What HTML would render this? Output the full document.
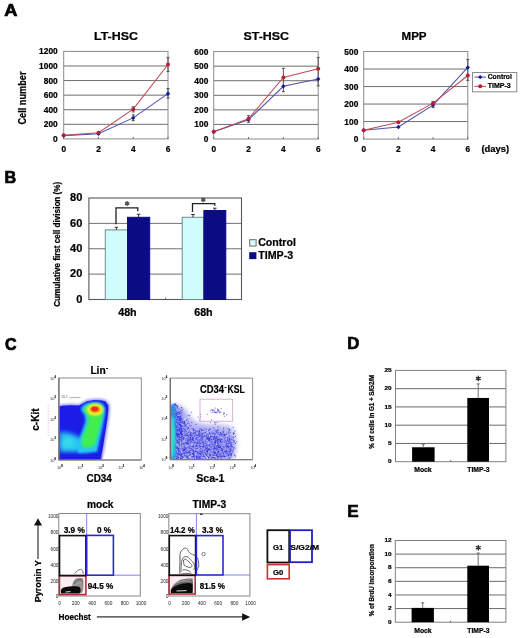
<!DOCTYPE html>
<html><head><meta charset="utf-8"><style>
html,body{margin:0;padding:0;background:#fff;}
svg{display:block;will-change:transform;filter:blur(0.3px);}
text{font-family:"Liberation Sans",sans-serif;}
</style></head><body>
<svg width="520" height="638" viewBox="0 0 520 638">
<rect x="0" y="0" width="520" height="638" fill="#fff"/>
<text x="4.20" y="16.00" font-size="16.9" font-weight="bold" fill="#000" text-anchor="start" textLength="13.20" lengthAdjust="spacingAndGlyphs" stroke="#000" stroke-width="0.7">A</text>
<text x="4.40" y="183.20" font-size="16.9" font-weight="bold" fill="#000" text-anchor="start" textLength="11.70" lengthAdjust="spacingAndGlyphs" stroke="#000" stroke-width="0.7">B</text>
<text x="5.10" y="350.00" font-size="16.9" font-weight="bold" fill="#000" text-anchor="start" textLength="11.60" lengthAdjust="spacingAndGlyphs" stroke="#000" stroke-width="0.7">C</text>
<text x="347.20" y="349.10" font-size="16.9" font-weight="bold" fill="#000" text-anchor="start" textLength="12.10" lengthAdjust="spacingAndGlyphs" stroke="#000" stroke-width="0.7">D</text>
<text x="347.20" y="517.30" font-size="16.9" font-weight="bold" fill="#000" text-anchor="start" textLength="11.40" lengthAdjust="spacingAndGlyphs" stroke="#000" stroke-width="0.7">E</text>
<line x1="63.70" y1="65.98" x2="168.00" y2="65.98" stroke="#6e6e6e" stroke-width="1" />
<line x1="63.70" y1="80.57" x2="168.00" y2="80.57" stroke="#6e6e6e" stroke-width="1" />
<line x1="63.70" y1="95.15" x2="168.00" y2="95.15" stroke="#6e6e6e" stroke-width="1" />
<line x1="63.70" y1="109.73" x2="168.00" y2="109.73" stroke="#6e6e6e" stroke-width="1" />
<line x1="63.70" y1="124.32" x2="168.00" y2="124.32" stroke="#6e6e6e" stroke-width="1" />
<rect x="63.70" y="51.40" width="104.30" height="87.50" fill="none" stroke="#8a8a8a" stroke-width="1" />
<text x="57.70" y="54.40" font-size="8.3" font-weight="bold" fill="#000" text-anchor="end" textLength="18.60" lengthAdjust="spacingAndGlyphs"  stroke="#000" stroke-width="0.22">1200</text>
<text x="57.70" y="68.98" font-size="8.3" font-weight="bold" fill="#000" text-anchor="end" textLength="18.60" lengthAdjust="spacingAndGlyphs"  stroke="#000" stroke-width="0.22">1000</text>
<text x="57.70" y="83.57" font-size="8.3" font-weight="bold" fill="#000" text-anchor="end" textLength="13.95" lengthAdjust="spacingAndGlyphs"  stroke="#000" stroke-width="0.22">800</text>
<text x="57.70" y="98.15" font-size="8.3" font-weight="bold" fill="#000" text-anchor="end" textLength="13.95" lengthAdjust="spacingAndGlyphs"  stroke="#000" stroke-width="0.22">600</text>
<text x="57.70" y="112.73" font-size="8.3" font-weight="bold" fill="#000" text-anchor="end" textLength="13.95" lengthAdjust="spacingAndGlyphs"  stroke="#000" stroke-width="0.22">400</text>
<text x="57.70" y="127.32" font-size="8.3" font-weight="bold" fill="#000" text-anchor="end" textLength="13.95" lengthAdjust="spacingAndGlyphs"  stroke="#000" stroke-width="0.22">200</text>
<text x="57.70" y="141.90" font-size="8.3" font-weight="bold" fill="#000" text-anchor="end" textLength="4.65" lengthAdjust="spacingAndGlyphs"  stroke="#000" stroke-width="0.22">0</text>
<line x1="63.70" y1="138.90" x2="63.70" y2="136.90" stroke="#6e6e6e" stroke-width="1" />
<text x="63.70" y="151.90" font-size="8.3" font-weight="bold" fill="#000" text-anchor="middle"  stroke="#000" stroke-width="0.22">0</text>
<line x1="98.47" y1="138.90" x2="98.47" y2="136.90" stroke="#6e6e6e" stroke-width="1" />
<text x="98.47" y="151.90" font-size="8.3" font-weight="bold" fill="#000" text-anchor="middle"  stroke="#000" stroke-width="0.22">2</text>
<line x1="133.23" y1="138.90" x2="133.23" y2="136.90" stroke="#6e6e6e" stroke-width="1" />
<text x="133.23" y="151.90" font-size="8.3" font-weight="bold" fill="#000" text-anchor="middle"  stroke="#000" stroke-width="0.22">4</text>
<line x1="168.00" y1="138.90" x2="168.00" y2="136.90" stroke="#6e6e6e" stroke-width="1" />
<text x="168.00" y="151.90" font-size="8.3" font-weight="bold" fill="#000" text-anchor="middle"  stroke="#000" stroke-width="0.22">6</text>
<text x="94.00" y="40.40" font-size="10.8" font-weight="bold" fill="#000" text-anchor="start" textLength="43.90" lengthAdjust="spacingAndGlyphs"  stroke="#000" stroke-width="0.22">LT-HSC</text>
<line x1="98.47" y1="134.53" x2="98.47" y2="131.97" stroke="#505050" stroke-width="1" />
<line x1="96.97" y1="134.53" x2="99.97" y2="134.53" stroke="#505050" stroke-width="1" />
<line x1="96.97" y1="131.97" x2="99.97" y2="131.97" stroke="#505050" stroke-width="1" />
<line x1="133.23" y1="120.67" x2="133.23" y2="114.84" stroke="#505050" stroke-width="1" />
<line x1="131.73" y1="120.67" x2="134.73" y2="120.67" stroke="#505050" stroke-width="1" />
<line x1="131.73" y1="114.84" x2="134.73" y2="114.84" stroke="#505050" stroke-width="1" />
<line x1="133.23" y1="111.92" x2="133.23" y2="106.82" stroke="#505050" stroke-width="1" />
<line x1="131.73" y1="111.92" x2="134.73" y2="111.92" stroke="#505050" stroke-width="1" />
<line x1="131.73" y1="106.82" x2="134.73" y2="106.82" stroke="#505050" stroke-width="1" />
<line x1="168.00" y1="98.07" x2="168.00" y2="88.59" stroke="#505050" stroke-width="1" />
<line x1="166.50" y1="98.07" x2="169.50" y2="98.07" stroke="#505050" stroke-width="1" />
<line x1="166.50" y1="88.59" x2="169.50" y2="88.59" stroke="#505050" stroke-width="1" />
<line x1="168.00" y1="71.45" x2="168.00" y2="57.60" stroke="#505050" stroke-width="1" />
<line x1="166.50" y1="71.45" x2="169.50" y2="71.45" stroke="#505050" stroke-width="1" />
<line x1="166.50" y1="57.60" x2="169.50" y2="57.60" stroke="#505050" stroke-width="1" />
<polyline points="63.70,135.62 98.47,133.80 133.23,117.90 168.00,93.69" fill="none" stroke="#5050b0" stroke-width="1.05"/>
<polyline points="63.70,135.25 98.47,132.70 133.23,109.15 168.00,64.45" fill="none" stroke="#c04a55" stroke-width="1.05"/>
<path d="M63.70,133.42 L65.90,135.62 L63.70,137.82 L61.50,135.62 Z" fill="#18189a"/>
<path d="M98.47,131.60 L100.67,133.80 L98.47,136.00 L96.27,133.80 Z" fill="#18189a"/>
<path d="M133.23,115.70 L135.43,117.90 L133.23,120.10 L131.03,117.90 Z" fill="#18189a"/>
<path d="M168.00,91.49 L170.20,93.69 L168.00,95.89 L165.80,93.69 Z" fill="#18189a"/>
<circle cx="63.70" cy="135.25" r="2.0" fill="#b81f35"/>
<circle cx="98.47" cy="132.70" r="2.0" fill="#b81f35"/>
<circle cx="133.23" cy="109.15" r="2.0" fill="#b81f35"/>
<circle cx="168.00" cy="64.45" r="2.0" fill="#b81f35"/>
<line x1="213.70" y1="66.17" x2="318.20" y2="66.17" stroke="#6e6e6e" stroke-width="1" />
<line x1="213.70" y1="80.73" x2="318.20" y2="80.73" stroke="#6e6e6e" stroke-width="1" />
<line x1="213.70" y1="95.30" x2="318.20" y2="95.30" stroke="#6e6e6e" stroke-width="1" />
<line x1="213.70" y1="109.87" x2="318.20" y2="109.87" stroke="#6e6e6e" stroke-width="1" />
<line x1="213.70" y1="124.43" x2="318.20" y2="124.43" stroke="#6e6e6e" stroke-width="1" />
<rect x="213.70" y="51.60" width="104.50" height="87.40" fill="none" stroke="#8a8a8a" stroke-width="1" />
<text x="208.30" y="54.60" font-size="8.3" font-weight="bold" fill="#000" text-anchor="end" textLength="13.95" lengthAdjust="spacingAndGlyphs"  stroke="#000" stroke-width="0.22">600</text>
<text x="208.30" y="69.17" font-size="8.3" font-weight="bold" fill="#000" text-anchor="end" textLength="13.95" lengthAdjust="spacingAndGlyphs"  stroke="#000" stroke-width="0.22">500</text>
<text x="208.30" y="83.73" font-size="8.3" font-weight="bold" fill="#000" text-anchor="end" textLength="13.95" lengthAdjust="spacingAndGlyphs"  stroke="#000" stroke-width="0.22">400</text>
<text x="208.30" y="98.30" font-size="8.3" font-weight="bold" fill="#000" text-anchor="end" textLength="13.95" lengthAdjust="spacingAndGlyphs"  stroke="#000" stroke-width="0.22">300</text>
<text x="208.30" y="112.87" font-size="8.3" font-weight="bold" fill="#000" text-anchor="end" textLength="13.95" lengthAdjust="spacingAndGlyphs"  stroke="#000" stroke-width="0.22">200</text>
<text x="208.30" y="127.43" font-size="8.3" font-weight="bold" fill="#000" text-anchor="end" textLength="13.95" lengthAdjust="spacingAndGlyphs"  stroke="#000" stroke-width="0.22">100</text>
<text x="208.30" y="142.00" font-size="8.3" font-weight="bold" fill="#000" text-anchor="end" textLength="4.65" lengthAdjust="spacingAndGlyphs"  stroke="#000" stroke-width="0.22">0</text>
<line x1="213.70" y1="139.00" x2="213.70" y2="137.00" stroke="#6e6e6e" stroke-width="1" />
<text x="213.70" y="151.90" font-size="8.3" font-weight="bold" fill="#000" text-anchor="middle"  stroke="#000" stroke-width="0.22">0</text>
<line x1="248.53" y1="139.00" x2="248.53" y2="137.00" stroke="#6e6e6e" stroke-width="1" />
<text x="248.53" y="151.90" font-size="8.3" font-weight="bold" fill="#000" text-anchor="middle"  stroke="#000" stroke-width="0.22">2</text>
<line x1="283.37" y1="139.00" x2="283.37" y2="137.00" stroke="#6e6e6e" stroke-width="1" />
<text x="283.37" y="151.90" font-size="8.3" font-weight="bold" fill="#000" text-anchor="middle"  stroke="#000" stroke-width="0.22">4</text>
<line x1="318.20" y1="139.00" x2="318.20" y2="137.00" stroke="#6e6e6e" stroke-width="1" />
<text x="318.20" y="151.90" font-size="8.3" font-weight="bold" fill="#000" text-anchor="middle"  stroke="#000" stroke-width="0.22">6</text>
<text x="243.50" y="40.40" font-size="10.8" font-weight="bold" fill="#000" text-anchor="start" textLength="45.50" lengthAdjust="spacingAndGlyphs"  stroke="#000" stroke-width="0.22">ST-HSC</text>
<line x1="248.53" y1="122.25" x2="248.53" y2="115.69" stroke="#505050" stroke-width="1" />
<line x1="247.03" y1="122.25" x2="250.03" y2="122.25" stroke="#505050" stroke-width="1" />
<line x1="247.03" y1="115.69" x2="250.03" y2="115.69" stroke="#505050" stroke-width="1" />
<line x1="283.37" y1="91.66" x2="283.37" y2="68.35" stroke="#505050" stroke-width="1" />
<line x1="281.87" y1="91.66" x2="284.87" y2="91.66" stroke="#505050" stroke-width="1" />
<line x1="281.87" y1="68.35" x2="284.87" y2="68.35" stroke="#505050" stroke-width="1" />
<line x1="318.20" y1="85.83" x2="318.20" y2="57.43" stroke="#505050" stroke-width="1" />
<line x1="316.70" y1="85.83" x2="319.70" y2="85.83" stroke="#505050" stroke-width="1" />
<line x1="316.70" y1="57.43" x2="319.70" y2="57.43" stroke="#505050" stroke-width="1" />
<polyline points="213.70,131.72 248.53,119.77 283.37,86.27 318.20,78.99" fill="none" stroke="#5050b0" stroke-width="1.05"/>
<polyline points="213.70,131.72 248.53,118.75 283.37,77.38 318.20,68.64" fill="none" stroke="#c04a55" stroke-width="1.05"/>
<path d="M213.70,129.52 L215.90,131.72 L213.70,133.92 L211.50,131.72 Z" fill="#18189a"/>
<path d="M248.53,117.57 L250.73,119.77 L248.53,121.97 L246.33,119.77 Z" fill="#18189a"/>
<path d="M283.37,84.07 L285.57,86.27 L283.37,88.47 L281.17,86.27 Z" fill="#18189a"/>
<path d="M318.20,76.79 L320.40,78.99 L318.20,81.19 L316.00,78.99 Z" fill="#18189a"/>
<circle cx="213.70" cy="131.72" r="2.0" fill="#b81f35"/>
<circle cx="248.53" cy="118.75" r="2.0" fill="#b81f35"/>
<circle cx="283.37" cy="77.38" r="2.0" fill="#b81f35"/>
<circle cx="318.20" cy="68.64" r="2.0" fill="#b81f35"/>
<line x1="363.70" y1="69.02" x2="467.80" y2="69.02" stroke="#6e6e6e" stroke-width="1" />
<line x1="363.70" y1="86.54" x2="467.80" y2="86.54" stroke="#6e6e6e" stroke-width="1" />
<line x1="363.70" y1="104.06" x2="467.80" y2="104.06" stroke="#6e6e6e" stroke-width="1" />
<line x1="363.70" y1="121.58" x2="467.80" y2="121.58" stroke="#6e6e6e" stroke-width="1" />
<rect x="363.70" y="51.50" width="104.10" height="87.60" fill="none" stroke="#8a8a8a" stroke-width="1" />
<text x="358.30" y="54.50" font-size="8.3" font-weight="bold" fill="#000" text-anchor="end" textLength="13.95" lengthAdjust="spacingAndGlyphs"  stroke="#000" stroke-width="0.22">500</text>
<text x="358.30" y="72.02" font-size="8.3" font-weight="bold" fill="#000" text-anchor="end" textLength="13.95" lengthAdjust="spacingAndGlyphs"  stroke="#000" stroke-width="0.22">400</text>
<text x="358.30" y="89.54" font-size="8.3" font-weight="bold" fill="#000" text-anchor="end" textLength="13.95" lengthAdjust="spacingAndGlyphs"  stroke="#000" stroke-width="0.22">300</text>
<text x="358.30" y="107.06" font-size="8.3" font-weight="bold" fill="#000" text-anchor="end" textLength="13.95" lengthAdjust="spacingAndGlyphs"  stroke="#000" stroke-width="0.22">200</text>
<text x="358.30" y="124.58" font-size="8.3" font-weight="bold" fill="#000" text-anchor="end" textLength="13.95" lengthAdjust="spacingAndGlyphs"  stroke="#000" stroke-width="0.22">100</text>
<text x="358.30" y="142.10" font-size="8.3" font-weight="bold" fill="#000" text-anchor="end" textLength="4.65" lengthAdjust="spacingAndGlyphs"  stroke="#000" stroke-width="0.22">0</text>
<line x1="363.70" y1="139.10" x2="363.70" y2="137.10" stroke="#6e6e6e" stroke-width="1" />
<text x="363.70" y="151.90" font-size="8.3" font-weight="bold" fill="#000" text-anchor="middle"  stroke="#000" stroke-width="0.22">0</text>
<line x1="398.40" y1="139.10" x2="398.40" y2="137.10" stroke="#6e6e6e" stroke-width="1" />
<text x="398.40" y="151.90" font-size="8.3" font-weight="bold" fill="#000" text-anchor="middle"  stroke="#000" stroke-width="0.22">2</text>
<line x1="433.10" y1="139.10" x2="433.10" y2="137.10" stroke="#6e6e6e" stroke-width="1" />
<text x="433.10" y="151.90" font-size="8.3" font-weight="bold" fill="#000" text-anchor="middle"  stroke="#000" stroke-width="0.22">4</text>
<line x1="467.80" y1="139.10" x2="467.80" y2="137.10" stroke="#6e6e6e" stroke-width="1" />
<text x="467.80" y="151.90" font-size="8.3" font-weight="bold" fill="#000" text-anchor="middle"  stroke="#000" stroke-width="0.22">6</text>
<text x="401.50" y="40.40" font-size="10.8" font-weight="bold" fill="#000" text-anchor="start" textLength="25.10" lengthAdjust="spacingAndGlyphs"  stroke="#000" stroke-width="0.22">MPP</text>
<line x1="433.10" y1="107.56" x2="433.10" y2="101.43" stroke="#505050" stroke-width="1" />
<line x1="431.60" y1="107.56" x2="434.60" y2="107.56" stroke="#505050" stroke-width="1" />
<line x1="431.60" y1="101.43" x2="434.60" y2="101.43" stroke="#505050" stroke-width="1" />
<line x1="467.80" y1="80.41" x2="467.80" y2="59.38" stroke="#505050" stroke-width="1" />
<line x1="466.30" y1="80.41" x2="469.30" y2="80.41" stroke="#505050" stroke-width="1" />
<line x1="466.30" y1="59.38" x2="469.30" y2="59.38" stroke="#505050" stroke-width="1" />
<polyline points="363.70,130.34 398.40,127.01 433.10,105.11 467.80,67.44" fill="none" stroke="#5050b0" stroke-width="1.05"/>
<polyline points="363.70,130.34 398.40,122.28 433.10,103.18 467.80,75.50" fill="none" stroke="#c04a55" stroke-width="1.05"/>
<path d="M363.70,128.14 L365.90,130.34 L363.70,132.54 L361.50,130.34 Z" fill="#18189a"/>
<path d="M398.40,124.81 L400.60,127.01 L398.40,129.21 L396.20,127.01 Z" fill="#18189a"/>
<path d="M433.10,102.91 L435.30,105.11 L433.10,107.31 L430.90,105.11 Z" fill="#18189a"/>
<path d="M467.80,65.24 L470.00,67.44 L467.80,69.64 L465.60,67.44 Z" fill="#18189a"/>
<circle cx="363.70" cy="130.34" r="2.0" fill="#b81f35"/>
<circle cx="398.40" cy="122.28" r="2.0" fill="#b81f35"/>
<circle cx="433.10" cy="103.18" r="2.0" fill="#b81f35"/>
<circle cx="467.80" cy="75.50" r="2.0" fill="#b81f35"/>
<text transform="translate(25.80,98.00) rotate(-90)" x="0" y="0" font-size="10.4" font-weight="bold" fill="#000" stroke="#000" stroke-width="0.22" text-anchor="middle" textLength="53.00" lengthAdjust="spacingAndGlyphs">Cell number</text>
<rect x="472.50" y="72.50" width="44.30" height="19.30" fill="#fff" stroke="#8a8a8a" stroke-width="1" />
<line x1="474.40" y1="77.10" x2="486.00" y2="77.10" stroke="#5050b0" stroke-width="1" />
<path d="M480.2,74.9 L482.4,77.1 L480.2,79.3 L478.0,77.1 Z" fill="#18189a"/>
<line x1="474.40" y1="86.30" x2="486.00" y2="86.30" stroke="#c04a55" stroke-width="1" />
<circle cx="480.2" cy="86.3" r="2" fill="#b81f35"/>
<text x="487.70" y="79.20" font-size="7.4" font-weight="bold" fill="#000" text-anchor="start" textLength="24.20" lengthAdjust="spacingAndGlyphs"  stroke="#000" stroke-width="0.22">Control</text>
<text x="487.70" y="88.40" font-size="7.4" font-weight="bold" fill="#000" text-anchor="start" textLength="23.10" lengthAdjust="spacingAndGlyphs"  stroke="#000" stroke-width="0.22">TIMP-3</text>
<text x="481.40" y="152.00" font-size="8.3" font-weight="bold" fill="#000" text-anchor="start" textLength="27.80" lengthAdjust="spacingAndGlyphs"  stroke="#000" stroke-width="0.22">(days)</text>
<line x1="88.90" y1="223.38" x2="241.50" y2="223.38" stroke="#707070" stroke-width="1" />
<line x1="88.90" y1="248.75" x2="241.50" y2="248.75" stroke="#707070" stroke-width="1" />
<line x1="88.90" y1="274.12" x2="241.50" y2="274.12" stroke="#707070" stroke-width="1" />
<rect x="88.90" y="198.00" width="152.60" height="101.50" fill="none" stroke="#585858" stroke-width="1.1" />
<text x="82.40" y="201.20" font-size="11" font-weight="bold" fill="#000" text-anchor="end" textLength="12.30" lengthAdjust="spacingAndGlyphs"  stroke="#000" stroke-width="0.22">80</text>
<text x="82.40" y="226.57" font-size="11" font-weight="bold" fill="#000" text-anchor="end" textLength="12.30" lengthAdjust="spacingAndGlyphs"  stroke="#000" stroke-width="0.22">60</text>
<text x="82.40" y="251.95" font-size="11" font-weight="bold" fill="#000" text-anchor="end" textLength="12.30" lengthAdjust="spacingAndGlyphs"  stroke="#000" stroke-width="0.22">40</text>
<text x="82.40" y="277.32" font-size="11" font-weight="bold" fill="#000" text-anchor="end" textLength="12.30" lengthAdjust="spacingAndGlyphs"  stroke="#000" stroke-width="0.22">20</text>
<text x="82.40" y="302.70" font-size="11" font-weight="bold" fill="#000" text-anchor="end" textLength="6.15" lengthAdjust="spacingAndGlyphs"  stroke="#000" stroke-width="0.22">0</text>
<line x1="165.60" y1="299.50" x2="165.60" y2="297.50" stroke="#707070" stroke-width="1" />
<rect x="105.30" y="229.90" width="22.20" height="69.60" fill="#cffcfc" stroke="#6f8c8c" stroke-width="1" />
<rect x="127.50" y="217.30" width="22.20" height="82.20" fill="#0b0b84" stroke="#0b0b84" stroke-width="1" />
<rect x="182.20" y="217.30" width="21.70" height="82.20" fill="#cffcfc" stroke="#6f8c8c" stroke-width="1" />
<rect x="203.90" y="210.50" width="21.90" height="89.00" fill="#0b0b84" stroke="#0b0b84" stroke-width="1" />
<line x1="116.40" y1="229.90" x2="116.40" y2="227.30" stroke="#303030" stroke-width="1" />
<line x1="114.60" y1="227.30" x2="118.20" y2="227.30" stroke="#303030" stroke-width="1" />
<line x1="138.60" y1="217.30" x2="138.60" y2="214.30" stroke="#303030" stroke-width="1" />
<line x1="136.80" y1="214.30" x2="140.40" y2="214.30" stroke="#303030" stroke-width="1" />
<line x1="193.00" y1="217.30" x2="193.00" y2="214.50" stroke="#303030" stroke-width="1" />
<line x1="191.20" y1="214.50" x2="194.80" y2="214.50" stroke="#303030" stroke-width="1" />
<line x1="214.80" y1="210.50" x2="214.80" y2="208.20" stroke="#303030" stroke-width="1" />
<line x1="213.00" y1="208.20" x2="216.60" y2="208.20" stroke="#303030" stroke-width="1" />
<path d="M116.0,224.2 L116.0,207.9 L137.8,207.9 L137.8,211.3" fill="none" stroke="#202020" stroke-width="1.3"/>
<path d="M192.5,211.9 L192.5,203.6 L214.8,203.6 L214.8,205.8" fill="none" stroke="#202020" stroke-width="1.3"/>
<circle cx="127.1" cy="203.6" r="2.0" fill="#555"/>
<path d="M127.10,201.60L127.10,205.60M125.37,202.60L128.83,204.60M125.37,204.60L128.83,202.60" stroke="#555" stroke-width="1.1" stroke-linecap="round"/>
<circle cx="203.3" cy="199.8" r="2.0" fill="#555"/>
<path d="M203.30,197.80L203.30,201.80M201.57,198.80L205.03,200.80M201.57,200.80L205.03,198.80" stroke="#555" stroke-width="1.1" stroke-linecap="round"/>
<text x="118.20" y="315.80" font-size="11" font-weight="bold" fill="#000" text-anchor="start" textLength="18.50" lengthAdjust="spacingAndGlyphs"  stroke="#000" stroke-width="0.22">48h</text>
<text x="194.20" y="315.80" font-size="11" font-weight="bold" fill="#000" text-anchor="start" textLength="18.50" lengthAdjust="spacingAndGlyphs"  stroke="#000" stroke-width="0.22">68h</text>
<text transform="translate(60.00,244.30) rotate(-90)" x="0" y="0" font-size="8.3" font-weight="bold" fill="#000" stroke="#000" stroke-width="0.22" text-anchor="middle" textLength="125.00" lengthAdjust="spacingAndGlyphs">Cumulative first cell division (%)</text>
<rect x="249.70" y="239.70" width="6.40" height="6.40" fill="#d8fafa" stroke="#707070" stroke-width="1" />
<rect x="249.20" y="252.20" width="7.20" height="6.90" fill="#0b0b84" stroke="none" stroke-width="0" />
<text x="258.20" y="245.80" font-size="10.6" font-weight="bold" fill="#000" text-anchor="start" textLength="37.70" lengthAdjust="spacingAndGlyphs"  stroke="#000" stroke-width="0.22">Control</text>
<text x="258.20" y="258.60" font-size="10.6" font-weight="bold" fill="#000" text-anchor="start" textLength="35.00" lengthAdjust="spacingAndGlyphs"  stroke="#000" stroke-width="0.22">TIMP-3</text>
<line x1="395.50" y1="388.66" x2="505.90" y2="388.66" stroke="#6a6a6a" stroke-width="1" />
<line x1="395.50" y1="406.92" x2="505.90" y2="406.92" stroke="#6a6a6a" stroke-width="1" />
<line x1="395.50" y1="425.18" x2="505.90" y2="425.18" stroke="#6a6a6a" stroke-width="1" />
<line x1="395.50" y1="443.44" x2="505.90" y2="443.44" stroke="#6a6a6a" stroke-width="1" />
<rect x="395.50" y="370.40" width="110.40" height="91.30" fill="none" stroke="#808080" stroke-width="1" />
<text x="391.70" y="372.10" font-size="6.2" font-weight="bold" fill="#000" text-anchor="end" textLength="7.20" lengthAdjust="spacingAndGlyphs"  stroke="#000" stroke-width="0.22">25</text>
<text x="391.70" y="390.36" font-size="6.2" font-weight="bold" fill="#000" text-anchor="end" textLength="7.20" lengthAdjust="spacingAndGlyphs"  stroke="#000" stroke-width="0.22">20</text>
<text x="391.70" y="408.62" font-size="6.2" font-weight="bold" fill="#000" text-anchor="end" textLength="7.20" lengthAdjust="spacingAndGlyphs"  stroke="#000" stroke-width="0.22">15</text>
<text x="391.70" y="426.88" font-size="6.2" font-weight="bold" fill="#000" text-anchor="end" textLength="7.20" lengthAdjust="spacingAndGlyphs"  stroke="#000" stroke-width="0.22">10</text>
<text x="391.70" y="445.14" font-size="6.2" font-weight="bold" fill="#000" text-anchor="end" textLength="3.60" lengthAdjust="spacingAndGlyphs"  stroke="#000" stroke-width="0.22">5</text>
<text x="391.70" y="463.40" font-size="6.2" font-weight="bold" fill="#000" text-anchor="end" textLength="3.60" lengthAdjust="spacingAndGlyphs"  stroke="#000" stroke-width="0.22">0</text>
<line x1="450.70" y1="461.70" x2="450.70" y2="460.20" stroke="#606060" stroke-width="1" />
<rect x="412.10" y="447.27" width="22.50" height="14.43" fill="#000" stroke="none" stroke-width="1" />
<rect x="467.30" y="397.97" width="21.70" height="63.73" fill="#000" stroke="none" stroke-width="1" />
<line x1="423.30" y1="447.27" x2="423.30" y2="444.17" stroke="#707070" stroke-width="1" />
<line x1="421.80" y1="444.17" x2="424.80" y2="444.17" stroke="#606060" stroke-width="1" />
<line x1="478.20" y1="397.97" x2="478.20" y2="383.91" stroke="#707070" stroke-width="1" />
<line x1="476.70" y1="383.91" x2="479.70" y2="383.91" stroke="#606060" stroke-width="1" />
<path d="M478.30,376.20L478.30,380.80M476.31,377.35L480.29,379.65M476.31,379.65L480.29,377.35" stroke="#333" stroke-width="1.3" stroke-linecap="round"/>
<text transform="translate(374.00,411.70) rotate(-90)" x="0" y="0" font-size="6.4" font-weight="bold" fill="#000" stroke="#000" stroke-width="0.22" text-anchor="middle" textLength="74.00" lengthAdjust="spacingAndGlyphs">% of cells in G1 + S/G2/M</text>
<text x="414.20" y="471.70" font-size="6.9" font-weight="bold" fill="#000" text-anchor="start" textLength="17.50" lengthAdjust="spacingAndGlyphs"  stroke="#000" stroke-width="0.22">Mock</text>
<text x="467.30" y="471.70" font-size="6.9" font-weight="bold" fill="#000" text-anchor="start" textLength="22.20" lengthAdjust="spacingAndGlyphs"  stroke="#000" stroke-width="0.22">TIMP-3</text>
<line x1="395.30" y1="554.12" x2="505.90" y2="554.12" stroke="#6a6a6a" stroke-width="1" />
<line x1="395.30" y1="567.73" x2="505.90" y2="567.73" stroke="#6a6a6a" stroke-width="1" />
<line x1="395.30" y1="581.35" x2="505.90" y2="581.35" stroke="#6a6a6a" stroke-width="1" />
<line x1="395.30" y1="594.97" x2="505.90" y2="594.97" stroke="#6a6a6a" stroke-width="1" />
<line x1="395.30" y1="608.58" x2="505.90" y2="608.58" stroke="#6a6a6a" stroke-width="1" />
<rect x="395.30" y="540.50" width="110.60" height="81.70" fill="none" stroke="#808080" stroke-width="1" />
<text x="391.70" y="542.20" font-size="6.2" font-weight="bold" fill="#000" text-anchor="end" textLength="7.20" lengthAdjust="spacingAndGlyphs"  stroke="#000" stroke-width="0.22">12</text>
<text x="391.70" y="555.82" font-size="6.2" font-weight="bold" fill="#000" text-anchor="end" textLength="7.20" lengthAdjust="spacingAndGlyphs"  stroke="#000" stroke-width="0.22">10</text>
<text x="391.70" y="569.43" font-size="6.2" font-weight="bold" fill="#000" text-anchor="end" textLength="3.60" lengthAdjust="spacingAndGlyphs"  stroke="#000" stroke-width="0.22">8</text>
<text x="391.70" y="583.05" font-size="6.2" font-weight="bold" fill="#000" text-anchor="end" textLength="3.60" lengthAdjust="spacingAndGlyphs"  stroke="#000" stroke-width="0.22">6</text>
<text x="391.70" y="596.67" font-size="6.2" font-weight="bold" fill="#000" text-anchor="end" textLength="3.60" lengthAdjust="spacingAndGlyphs"  stroke="#000" stroke-width="0.22">4</text>
<text x="391.70" y="610.28" font-size="6.2" font-weight="bold" fill="#000" text-anchor="end" textLength="3.60" lengthAdjust="spacingAndGlyphs"  stroke="#000" stroke-width="0.22">2</text>
<text x="391.70" y="623.90" font-size="6.2" font-weight="bold" fill="#000" text-anchor="end" textLength="3.60" lengthAdjust="spacingAndGlyphs"  stroke="#000" stroke-width="0.22">0</text>
<line x1="450.60" y1="622.20" x2="450.60" y2="620.70" stroke="#606060" stroke-width="1" />
<rect x="411.60" y="607.90" width="22.30" height="14.30" fill="#000" stroke="none" stroke-width="1" />
<rect x="467.30" y="565.69" width="21.70" height="56.51" fill="#000" stroke="none" stroke-width="1" />
<line x1="422.70" y1="607.90" x2="422.70" y2="602.80" stroke="#707070" stroke-width="1" />
<line x1="421.20" y1="602.80" x2="424.20" y2="602.80" stroke="#606060" stroke-width="1" />
<line x1="478.20" y1="565.69" x2="478.20" y2="553.10" stroke="#707070" stroke-width="1" />
<line x1="476.70" y1="553.10" x2="479.70" y2="553.10" stroke="#606060" stroke-width="1" />
<path d="M478.30,545.40L478.30,550.00M476.31,546.55L480.29,548.85M476.31,548.85L480.29,546.55" stroke="#333" stroke-width="1.3" stroke-linecap="round"/>
<text transform="translate(373.80,580.30) rotate(-90)" x="0" y="0" font-size="6.4" font-weight="bold" fill="#000" stroke="#000" stroke-width="0.22" text-anchor="middle" textLength="72.00" lengthAdjust="spacingAndGlyphs">% of BrdU incorporation</text>
<text x="414.20" y="632.80" font-size="6.9" font-weight="bold" fill="#000" text-anchor="start" textLength="17.50" lengthAdjust="spacingAndGlyphs"  stroke="#000" stroke-width="0.22">Mock</text>
<text x="467.30" y="632.80" font-size="6.9" font-weight="bold" fill="#000" text-anchor="start" textLength="22.20" lengthAdjust="spacingAndGlyphs"  stroke="#000" stroke-width="0.22">TIMP-3</text>
<defs><filter id="b06" x="-20%" y="-20%" width="140%" height="140%"><feGaussianBlur stdDeviation="0.6"/></filter><filter id="b1" x="-30%" y="-30%" width="160%" height="160%"><feGaussianBlur stdDeviation="1"/></filter><filter id="b2" x="-40%" y="-40%" width="180%" height="180%"><feGaussianBlur stdDeviation="2"/></filter><filter id="b3" x="-50%" y="-50%" width="200%" height="200%"><feGaussianBlur stdDeviation="3"/></filter><filter id="b4" x="-50%" y="-50%" width="200%" height="200%"><feGaussianBlur stdDeviation="4"/></filter></defs>
<g clip-path="url(#clip1)">
<clipPath id="clip1"><rect x="58.9" y="378.0" width="82.4" height="82.0"/></clipPath>
<path d="M59.2,404.6 L64,404.0 L71,403.6 L79,404.0 L83,401.6 L87,399.6 L94,398.4 L101,398.6 L106.5,400.0 L110,404.5 L110.2,410 L109.3,418 L108,427 L106.4,437 L105,446 L103.8,453 L102.4,458.5 L101,460.5 L59.2,460.5 Z" fill="#8a8af6" filter="url(#b1)" opacity="0.8"/>
<path d="M59.2,406.2 L64,405.6 L71,405.2 L79,405.6 L83,403.2 L87,401.2 L94,400.0 L101,400.2 L105.5,401.6 L108.3,405.5 L108.4,410 L107.5,418 L106.2,427 L104.6,437 L103.2,446 L102,453 L100.6,458.5 L99,460.5 L59.2,460.5 Z" fill="#1e1ee8" filter="url(#b06)"/>
<path d="M59.5,432 L70,433 L79,437 L87,446 L91,452 L60,452 Z" fill="#28c4f0" filter="url(#b2)"/>
<ellipse cx="68" cy="443" rx="7" ry="5" fill="#3cdcec" filter="url(#b2)" opacity="0.8"/>
<rect x="59" y="455" width="42" height="6" fill="#1e1ee8" filter="url(#b1)"/>
<path d="M81,410 C81.5,404 88,402 96,402 C103,402 106,406 105,414 L103.5,422 L101.5,432 L99,443 L97,452 L78,453 L78.5,440 L82.5,430 L85.5,421 L84.5,415 Z" fill="#28c8f0" filter="url(#b1)"/>
<path d="M84,410 C85,405.5 89,404.5 96,404.5 C101,404.5 103,407 102.5,413 L101.5,420 L99.5,428 L97,437 L95,445 L89,448 L81.5,446 L82,438 L85.5,430 L88.5,421 L87.5,415.5 Z" fill="#40ee50" filter="url(#b1)"/>
<ellipse cx="95.0" cy="409.8" rx="8.6" ry="6.2" fill="#c8f038" filter="url(#b1)"/>
<ellipse cx="95.0" cy="409.6" rx="6.8" ry="4.8" fill="#f4ee28" filter="url(#b1)"/>
<ellipse cx="95.0" cy="409.3" rx="5.2" ry="3.6" fill="#f89020" filter="url(#b06)"/>
<ellipse cx="94.8" cy="409.0" rx="3.4" ry="2.3" fill="#e83018" filter="url(#b06)"/>
</g>
<rect x="58.90" y="378.00" width="82.40" height="82.00" fill="none" stroke="#8c8c8c" stroke-width="1" />
<line x1="58.90" y1="378.00" x2="58.90" y2="460.00" stroke="#6a6a6a" stroke-width="1.2" />
<line x1="58.90" y1="460.00" x2="141.30" y2="460.00" stroke="#7a7a7a" stroke-width="1.1" />
<line x1="69.60" y1="397.60" x2="80.50" y2="397.60" stroke="#e070d0" stroke-width="0.8" />
<text x="61.50" y="397.50" font-size="3.2" font-weight="normal" fill="#555" text-anchor="start" >20.1</text>
<line x1="48.20" y1="404.50" x2="48.20" y2="436.50" stroke="#e6a0d8" stroke-width="0.7" stroke-dasharray="1.5,1.5"/>
<clipPath id="clip2"><rect x="170.3" y="378.1" width="82.29999999999998" height="81.5"/></clipPath>
<g clip-path="url(#clip2)">
<path d="M170,404 L178,404 L185,409 L190,416 L196,422 L206,424 L220,424.5 L230,426 L235,431 L237,445 L235,456 L231,460 L170,460 Z" fill="#a4a4f2" opacity="0.75" filter="url(#b2)"/>
<path d="M172,426 L186,429 L205,430 L226,432 L231,440 L230,457 L172,458 Z" fill="#5a5ae8" opacity="0.45" filter="url(#b2)"/>
<ellipse cx="177" cy="424" rx="6" ry="14" fill="#3838e8" opacity="0.7" filter="url(#b2)"/>
</g>
<path d="M219.2,435.9h0.9 M205.5,458.3h0.9 M217.4,445.9h0.9 M179.3,413.2h0.9 M180.3,437.6h0.9 M177.2,433.8h0.9 M191.4,454.4h0.9 M190.6,425.4h0.9 M198.0,433.2h0.9 M222.0,433.9h0.9 M213.2,436.4h0.9 M172.7,435.0h0.9 M192.9,439.7h0.9 M223.5,456.4h0.9 M172.3,449.0h0.9 M174.0,436.7h0.9 M217.1,454.0h0.9 M180.1,445.9h0.9 M187.4,440.3h0.9 M179.6,429.4h0.9 M201.3,430.6h0.9 M208.9,433.0h0.9 M175.8,419.0h0.9 M174.3,410.0h0.9 M173.9,455.2h0.9 M174.9,456.1h0.9 M223.9,416.2h0.9 M176.0,453.7h0.9 M179.1,436.4h0.9 M174.4,430.5h0.9 M202.2,436.3h0.9 M211.5,436.8h0.9 M197.2,442.6h0.9 M219.0,447.5h0.9 M225.4,453.3h0.9 M209.4,445.0h0.9 M174.9,417.0h0.9 M173.2,404.7h0.9 M183.4,444.6h0.9 M219.5,412.6h0.9 M182.2,449.2h0.9 M197.3,440.3h0.9 M177.4,406.7h0.9 M232.9,434.5h0.9 M175.9,454.6h0.9 M196.0,438.0h0.9 M217.2,410.2h0.9 M192.0,453.2h0.9 M171.7,410.3h0.9 M199.3,433.0h0.9 M170.5,413.0h0.9 M185.1,449.5h0.9 M220.0,446.6h0.9 M173.9,434.9h0.9 M182.8,435.4h0.9 M188.1,428.1h0.9 M177.1,448.5h0.9 M200.5,438.0h0.9 M175.9,440.5h0.9 M171.9,409.2h0.9 M174.6,422.2h0.9 M181.7,434.6h0.9 M220.5,454.5h0.9 M188.0,436.9h0.9 M182.9,438.9h0.9 M198.9,453.9h0.9 M187.5,439.8h0.9 M183.7,429.6h0.9 M189.3,442.0h0.9 M180.5,440.3h0.9 M174.1,441.9h0.9 M179.5,418.3h0.9 M230.1,449.6h0.9 M178.5,455.4h0.9 M179.5,417.9h0.9 M181.2,436.5h0.9 M232.6,442.6h0.9 M197.2,444.3h0.9 M172.3,433.5h0.9 M197.7,437.2h0.9 M211.2,439.8h0.9 M171.2,428.9h0.9 M202.5,457.2h0.9 M221.0,456.3h0.9 M197.1,458.9h0.9 M198.7,437.6h0.9 M172.9,436.6h0.9 M214.8,455.3h0.9 M179.9,458.9h0.9 M175.9,458.8h0.9 M202.1,448.4h0.9 M180.3,453.1h0.9 M222.7,459.4h0.9 M199.9,443.6h0.9 M193.0,429.2h0.9 M192.4,445.8h0.9 M174.5,411.4h0.9 M173.9,423.6h0.9 M178.8,454.5h0.9 M202.2,450.9h0.9 M174.7,445.0h0.9 M203.3,444.2h0.9 M178.3,443.7h0.9 M187.7,444.3h0.9 M172.0,431.0h0.9 M193.5,451.6h0.9 M229.0,430.1h0.9 M234.5,455.5h0.9 M216.2,455.4h0.9 M235.2,456.9h0.9 M188.0,452.2h0.9 M195.7,446.6h0.9 M174.2,416.9h0.9 M176.6,411.7h0.9 M183.4,443.3h0.9 M171.6,416.7h0.9 M208.4,458.5h0.9 M182.2,456.3h0.9 M194.0,458.5h0.9 M189.8,435.7h0.9 M221.9,448.9h0.9 M197.2,431.0h0.9 M229.7,443.4h0.9 M215.9,458.7h0.9 M172.1,440.9h0.9 M220.2,440.8h0.9 M229.2,452.9h0.9 M176.1,459.1h0.9 M199.5,437.3h0.9 M214.6,433.8h0.9 M213.5,436.8h0.9 M224.4,444.6h0.9 M216.3,455.5h0.9 M199.1,430.7h0.9 M227.6,432.8h0.9 M181.5,408.0h0.9 M185.4,437.4h0.9 M222.6,454.9h0.9 M225.7,451.3h0.9 M219.4,457.1h0.9 M175.1,436.7h0.9 M185.6,435.9h0.9 M174.8,404.0h0.9 M172.7,407.9h0.9 M217.6,426.8h0.9 M197.1,459.5h0.9 M176.4,439.7h0.9 M175.3,439.5h0.9 M173.5,429.0h0.9 M225.9,444.7h0.9 M230.0,454.7h0.9 M177.2,432.3h0.9 M228.4,439.2h0.9 M189.7,439.5h0.9 M231.4,455.6h0.9 M194.8,432.9h0.9 M199.3,420.1h0.9 M172.7,417.5h0.9 M185.4,447.5h0.9 M214.8,448.4h0.9 M173.0,427.5h0.9 M178.7,418.5h0.9 M181.4,457.7h0.9 M232.8,449.5h0.9 M220.0,440.7h0.9 M204.9,453.2h0.9 M177.7,416.8h0.9 M195.8,458.1h0.9 M235.1,443.6h0.9 M177.2,433.8h0.9 M196.5,445.4h0.9 M216.8,456.8h0.9 M173.7,452.1h0.9 M216.4,438.5h0.9 M190.1,448.6h0.9 M177.2,440.7h0.9 M180.7,416.7h0.9 M175.4,426.4h0.9 M181.3,426.2h0.9 M181.1,444.4h0.9 M216.9,433.8h0.9 M211.7,412.5h0.9 M183.8,446.5h0.9 M176.4,430.2h0.9 M211.4,445.2h0.9 M220.2,432.4h0.9 M183.7,441.8h0.9 M207.4,449.9h0.9 M177.3,412.8h0.9 M176.8,431.4h0.9 M171.0,427.6h0.9 M206.3,443.4h0.9 M179.3,411.6h0.9 M173.9,445.1h0.9 M228.5,445.2h0.9 M171.9,452.2h0.9 M192.0,439.0h0.9 M174.0,456.1h0.9 M201.3,434.5h0.9 M193.6,456.9h0.9 M178.9,444.9h0.9 M196.1,438.3h0.9 M202.4,430.4h0.9 M227.9,457.6h0.9 M229.7,429.7h0.9 M216.8,437.2h0.9 M194.3,456.8h0.9 M225.2,444.9h0.9 M183.1,439.0h0.9 M215.5,431.3h0.9 M214.1,439.5h0.9 M189.7,443.9h0.9 M204.3,457.6h0.9 M195.7,439.7h0.9 M217.7,432.8h0.9 M174.1,444.7h0.9 M181.0,440.8h0.9 M185.2,426.2h0.9 M187.0,423.3h0.9 M211.2,437.4h0.9 M215.5,412.7h0.9 M196.7,443.5h0.9 M229.5,458.1h0.9 M189.8,433.1h0.9 M218.2,456.6h0.9 M214.1,442.6h0.9 M176.9,432.5h0.9 M179.2,436.2h0.9 M185.3,433.4h0.9 M221.6,452.6h0.9 M232.7,450.9h0.9 M195.6,424.4h0.9 M180.0,451.7h0.9 M183.5,450.2h0.9 M190.1,445.5h0.9 M202.3,433.6h0.9 M228.7,441.9h0.9 M217.6,452.4h0.9 M177.3,423.1h0.9 M196.1,442.9h0.9 M210.7,451.2h0.9 M216.8,412.3h0.9 M217.4,454.0h0.9 M205.3,447.2h0.9 M215.1,438.3h0.9 M220.3,443.6h0.9 M171.8,430.0h0.9 M202.7,450.2h0.9 M207.3,447.3h0.9 M187.6,448.2h0.9 M175.7,426.9h0.9 M211.9,440.5h0.9 M232.1,439.9h0.9 M176.7,422.6h0.9 M221.0,434.5h0.9 M211.2,457.8h0.9 M190.5,454.7h0.9 M177.6,429.3h0.9 M180.3,454.4h0.9 M188.8,455.5h0.9 M203.2,449.6h0.9 M180.2,424.5h0.9 M171.0,437.1h0.9 M196.9,452.3h0.9 M221.9,433.3h0.9 M177.6,453.7h0.9 M193.2,454.7h0.9 M209.1,438.5h0.9 M179.7,454.1h0.9 M226.1,443.5h0.9 M189.4,445.3h0.9 M183.0,443.5h0.9 M228.0,455.5h0.9 M202.5,458.9h0.9 M203.5,456.5h0.9 M173.5,448.8h0.9 M176.8,405.9h0.9 M181.7,450.3h0.9 M190.4,446.8h0.9 M221.4,442.1h0.9 M181.9,423.5h0.9 M203.7,428.8h0.9 M178.4,436.1h0.9 M211.3,433.0h0.9 M234.4,431.0h0.9 M180.2,444.4h0.9 M232.7,437.3h0.9 M173.9,457.4h0.9 M205.1,443.6h0.9 M195.9,457.5h0.9 M173.4,446.4h0.9 M211.0,436.5h0.9 M171.4,459.5h0.9 M185.1,440.9h0.9 M230.6,457.0h0.9 M227.0,451.4h0.9 M175.2,440.6h0.9 M182.8,437.3h0.9 M219.4,442.3h0.9 M173.7,415.7h0.9 M175.5,416.0h0.9 M193.5,429.7h0.9 M209.3,439.3h0.9 M216.7,448.5h0.9 M205.7,455.9h0.9 M225.7,455.7h0.9 M172.4,405.3h0.9 M226.2,434.3h0.9 M212.0,454.3h0.9 M189.3,458.6h0.9 M223.3,413.0h0.9 M176.8,429.2h0.9 M180.2,433.5h0.9 M193.0,445.7h0.9 M188.1,421.7h0.9 M176.1,415.8h0.9 M186.7,432.1h0.9 M196.0,453.8h0.9 M189.5,458.5h0.9 M194.7,434.5h0.9 M236.2,441.9h0.9 M229.4,454.0h0.9 M173.9,426.7h0.9 M173.0,435.1h0.9 M170.9,417.8h0.9 M218.2,447.4h0.9 M190.8,446.3h0.9 M224.1,435.1h0.9 M180.0,458.8h0.9 M183.8,453.8h0.9 M191.5,459.2h0.9 M196.8,456.8h0.9 M173.8,427.0h0.9 M178.1,450.1h0.9 M220.8,452.8h0.9 M230.2,445.6h0.9 M174.1,431.1h0.9 M218.7,456.8h0.9 M207.8,439.3h0.9 M212.7,444.6h0.9 M210.3,446.9h0.9 M170.6,433.8h0.9 M196.3,454.4h0.9 M229.7,443.9h0.9 M188.8,435.0h0.9 M223.4,440.9h0.9 M183.8,422.8h0.9 M173.8,443.5h0.9 M174.0,422.7h0.9 M178.2,439.3h0.9 M216.4,453.8h0.9 M185.9,436.9h0.9 M219.5,455.0h0.9 M178.5,451.2h0.9 M216.7,456.4h0.9 M234.4,449.0h0.9 M219.9,448.0h0.9 M191.0,456.6h0.9 M176.4,456.3h0.9 M196.5,455.7h0.9 M218.5,445.4h0.9 M178.6,424.2h0.9 M200.9,429.6h0.9 M176.1,441.1h0.9 M202.6,437.3h0.9 M185.5,442.0h0.9 M179.3,442.2h0.9 M186.0,448.4h0.9 M178.3,448.5h0.9 M172.2,455.0h0.9 M219.7,449.6h0.9 M181.4,455.8h0.9 M171.8,448.0h0.9 M202.1,454.0h0.9 M183.0,450.3h0.9 M189.7,426.6h0.9 M215.6,441.3h0.9 M180.3,458.5h0.9 M175.1,428.4h0.9 M179.9,446.1h0.9 M230.7,443.9h0.9 M185.8,452.3h0.9 M186.1,443.0h0.9 M216.3,450.1h0.9 M171.2,457.1h0.9 M179.0,429.6h0.9 M229.8,455.5h0.9 M186.2,429.5h0.9 M176.0,454.9h0.9 M205.2,441.3h0.9 M219.7,454.5h0.9 M226.0,446.8h0.9 M171.1,451.0h0.9 M224.0,413.4h0.9 M195.0,438.9h0.9 M216.8,430.7h0.9 M176.3,431.2h0.9 M184.8,425.8h0.9 M192.4,451.6h0.9 M176.0,419.8h0.9 M215.2,445.1h0.9 M172.2,441.5h0.9 M190.4,437.7h0.9 M172.8,430.0h0.9 M171.5,416.2h0.9 M206.5,435.1h0.9 M177.9,457.1h0.9 M195.1,448.7h0.9 M215.3,412.1h0.9 M210.0,442.9h0.9 M176.0,425.1h0.9 M205.0,454.2h0.9 M189.5,443.8h0.9 M196.2,458.3h0.9 M170.9,409.2h0.9 M173.7,449.5h0.9 M231.7,437.9h0.9 M200.5,458.7h0.9 M228.7,440.4h0.9 M199.8,447.7h0.9 M173.1,415.9h0.9 M174.4,404.3h0.9 M187.7,438.1h0.9 M174.7,404.3h0.9 M179.3,430.8h0.9 M230.3,452.5h0.9 M227.8,451.4h0.9 M189.1,444.5h0.9 M230.1,446.2h0.9 M181.2,443.6h0.9 M195.5,446.1h0.9 M171.3,437.2h0.9 M218.2,430.0h0.9 M188.6,452.0h0.9 M215.5,450.2h0.9 M184.5,425.9h0.9 M177.5,429.4h0.9 M174.7,424.3h0.9 M217.5,444.1h0.9 M171.7,418.8h0.9 M172.7,417.1h0.9 M184.3,447.6h0.9 M175.0,404.5h0.9 M198.2,441.3h0.9 M176.2,406.7h0.9 M199.7,428.7h0.9 M215.7,453.8h0.9 M212.6,443.7h0.9 M178.2,439.5h0.9 M180.6,425.0h0.9 M175.6,405.0h0.9 M177.1,417.5h0.9 M174.4,404.3h0.9 M195.8,453.1h0.9 M218.4,457.2h0.9 M191.5,453.3h0.9 M187.8,457.2h0.9 M181.2,456.4h0.9 M228.3,449.8h0.9 M192.2,458.4h0.9 M174.1,425.8h0.9 M227.8,444.4h0.9 M197.6,457.2h0.9 M175.1,405.8h0.9 M180.7,418.2h0.9 M170.7,457.9h0.9 M230.4,441.1h0.9 M206.0,438.1h0.9 M171.9,421.8h0.9 M198.1,442.1h0.9 M200.6,453.7h0.9 M185.3,435.1h0.9 M179.9,432.7h0.9 M172.1,416.9h0.9 M230.2,445.3h0.9 M174.3,445.9h0.9 M216.8,433.2h0.9 M199.9,451.7h0.9 M194.0,458.6h0.9 M217.4,451.8h0.9 M202.7,441.8h0.9 M170.7,447.5h0.9 M172.8,429.9h0.9 M207.3,438.5h0.9 M181.0,446.5h0.9 M223.5,455.1h0.9 M206.8,439.6h0.9 M218.1,447.5h0.9 M216.0,445.8h0.9 M206.1,445.6h0.9 M197.1,440.7h0.9 M207.7,444.9h0.9 M179.4,424.3h0.9 M170.6,414.9h0.9 M175.1,453.5h0.9 M198.5,434.3h0.9 M196.6,431.1h0.9 M204.6,435.2h0.9 M175.4,415.6h0.9 M230.9,439.3h0.9 M214.5,439.9h0.9 M193.2,456.0h0.9 M226.8,440.4h0.9 M174.9,433.0h0.9 M192.4,453.6h0.9 M188.3,427.3h0.9 M228.5,431.6h0.9 M213.0,438.3h0.9 M176.6,447.1h0.9 M185.1,449.6h0.9 M179.0,447.4h0.9 M213.8,454.7h0.9 M208.9,429.4h0.9 M173.8,449.3h0.9 M227.1,437.9h0.9 M212.7,443.0h0.9 M229.5,446.4h0.9 M178.4,427.8h0.9 M230.9,442.5h0.9 M174.8,447.2h0.9 M200.3,457.2h0.9 M217.8,444.3h0.9 M215.1,453.1h0.9 M199.4,436.5h0.9 M174.6,426.9h0.9 M200.2,456.2h0.9 M197.1,448.2h0.9 M214.9,452.4h0.9 M228.8,437.2h0.9 M179.7,430.9h0.9 M210.1,435.4h0.9 M207.6,445.8h0.9 M220.6,435.9h0.9 M195.9,448.6h0.9 M203.9,456.3h0.9 M194.5,442.9h0.9 M193.7,441.4h0.9 M213.7,441.0h0.9 M218.0,447.2h0.9 M175.2,414.6h0.9 M178.9,433.5h0.9 M179.0,420.3h0.9 M221.2,456.2h0.9 M219.9,447.4h0.9 M180.7,456.5h0.9 M226.7,442.7h0.9 M207.7,438.4h0.9 M177.9,435.3h0.9 M200.8,454.9h0.9 M176.1,433.5h0.9 M172.5,441.0h0.9 M178.9,437.3h0.9 M221.6,450.0h0.9 M198.0,441.1h0.9 M179.5,424.3h0.9 M230.3,451.6h0.9 M199.8,458.7h0.9 M218.4,411.2h0.9 M196.3,441.9h0.9 M226.2,414.8h0.9 M178.4,439.7h0.9 M175.5,417.2h0.9 M228.1,447.8h0.9 M188.3,433.1h0.9 M172.6,429.3h0.9 M231.2,435.6h0.9 M173.8,451.1h0.9 M224.4,459.3h0.9 M172.8,411.9h0.9 M175.7,425.3h0.9 M175.2,413.7h0.9 M235.0,436.4h0.9 M187.6,415.2h0.9 M170.8,438.8h0.9 M208.0,459.0h0.9 M202.8,443.6h0.9 M189.4,415.4h0.9 M188.0,438.2h0.9 M171.7,443.1h0.9 M218.5,448.0h0.9 M212.1,410.7h0.9 M214.8,423.0h0.9 M201.0,451.9h0.9 M219.3,439.5h0.9 M228.5,455.5h0.9 M173.8,418.1h0.9 M216.8,430.1h0.9 M179.8,428.5h0.9 M208.5,445.2h0.9 M220.6,408.8h0.9 M173.7,427.2h0.9 M177.7,429.9h0.9 M189.2,452.8h0.9 M214.0,447.4h0.9 M178.8,430.3h0.9 M197.7,435.5h0.9 M206.8,414.3h0.9 M185.7,442.2h0.9 M199.1,459.0h0.9 M173.7,456.2h0.9 M185.2,456.5h0.9 M232.9,427.3h0.9 M193.4,440.0h0.9 M174.6,436.5h0.9 M198.5,458.5h0.9 M227.9,454.3h0.9 M222.7,446.5h0.9 M174.3,453.0h0.9 M172.2,447.8h0.9 M221.5,440.1h0.9 M192.9,453.0h0.9 M186.0,457.3h0.9 M181.1,433.0h0.9 M180.8,429.6h0.9 M222.4,458.4h0.9 M178.4,422.9h0.9 M227.8,455.3h0.9 M226.5,455.6h0.9 M223.3,439.9h0.9 M218.4,453.6h0.9 M175.5,425.5h0.9 M189.4,453.7h0.9 M193.5,453.2h0.9 M187.6,427.8h0.9 M209.7,442.2h0.9 M227.1,438.9h0.9 M177.1,430.4h0.9 M191.1,436.0h0.9 M175.1,415.9h0.9 M179.2,423.9h0.9 M208.9,449.1h0.9 M177.8,434.4h0.9 M204.6,449.7h0.9 M196.6,445.9h0.9 M231.0,450.7h0.9 M176.5,437.0h0.9 M202.1,451.8h0.9 M199.0,443.0h0.9 M191.2,412.3h0.9 M199.8,448.6h0.9 M185.6,436.8h0.9 M209.0,451.9h0.9 M204.9,438.7h0.9 M198.2,434.3h0.9 M179.2,423.6h0.9 M206.2,437.2h0.9 M217.9,439.8h0.9 M210.4,450.4h0.9 M217.8,447.5h0.9 M180.2,422.1h0.9 M204.2,440.1h0.9 M233.1,432.9h0.9 M174.7,439.0h0.9 M172.1,436.9h0.9 M173.3,406.4h0.9 M216.0,443.3h0.9 M217.0,442.4h0.9 M180.6,410.4h0.9 M181.2,442.0h0.9 M188.9,450.9h0.9 M176.4,448.6h0.9 M218.1,410.4h0.9 M187.4,445.0h0.9 M230.7,454.0h0.9 M222.8,453.5h0.9 M171.2,438.0h0.9 M183.1,453.0h0.9 M201.9,438.9h0.9 M225.8,442.0h0.9 M192.5,446.6h0.9 M174.7,437.7h0.9 M202.5,440.9h0.9 M227.4,446.8h0.9 M187.9,458.6h0.9 M176.1,435.4h0.9 M176.4,430.2h0.9 M212.5,410.1h0.9 M226.4,443.2h0.9 M190.4,447.8h0.9 M212.2,445.4h0.9 M178.6,442.0h0.9 M180.9,434.6h0.9 M173.1,459.0h0.9 M170.8,435.5h0.9 M188.6,447.0h0.9 M200.1,458.8h0.9 M225.2,458.4h0.9 M223.1,447.0h0.9 M177.9,450.1h0.9 M171.8,454.3h0.9 M172.1,423.8h0.9 M181.4,433.8h0.9 M171.5,441.6h0.9 M215.0,455.9h0.9 M199.0,431.7h0.9 M191.5,450.0h0.9 M192.3,449.7h0.9 M222.9,432.8h0.9 M175.4,436.7h0.9 M178.3,451.1h0.9 M202.1,442.3h0.9 M230.2,448.2h0.9 M227.1,451.9h0.9 M215.0,452.2h0.9 M215.6,452.0h0.9 M176.4,443.9h0.9 M223.0,441.7h0.9 M173.1,422.1h0.9 M208.5,457.5h0.9 M213.7,453.5h0.9 M223.0,453.1h0.9 M218.9,412.1h0.9 M182.6,449.4h0.9 M224.9,456.7h0.9 M209.1,455.6h0.9 M187.7,441.4h0.9 M173.8,451.2h0.9 M195.3,451.5h0.9 M220.8,435.8h0.9 M205.2,457.9h0.9 M186.1,426.8h0.9 M216.0,449.1h0.9 M185.6,446.6h0.9 M178.0,430.0h0.9 M182.1,435.6h0.9 M224.7,438.3h0.9 M174.8,457.8h0.9 M181.4,431.6h0.9 M225.5,448.0h0.9 M213.2,412.0h0.9 M212.4,457.5h0.9 M188.4,449.9h0.9 M170.7,434.7h0.9 M181.3,454.6h0.9 M184.7,425.2h0.9 M186.9,457.3h0.9 M172.3,443.2h0.9 M214.9,412.4h0.9 M205.7,436.2h0.9 M174.0,455.0h0.9 M208.7,439.2h0.9 M214.2,409.7h0.9 M216.3,454.9h0.9 M201.2,449.8h0.9 M222.2,444.4h0.9 M214.3,458.0h0.9 M184.5,449.3h0.9 M177.4,421.2h0.9 M211.3,419.8h0.9 M193.5,443.8h0.9 M192.4,440.6h0.9 M189.7,449.2h0.9 M176.7,434.2h0.9 M211.0,459.3h0.9 M204.9,432.5h0.9 M227.2,441.0h0.9 M217.5,410.4h0.9 M208.2,447.7h0.9 M175.5,428.7h0.9 M181.5,457.1h0.9 M180.8,407.5h0.9 M228.8,433.4h0.9 M192.4,442.4h0.9 M179.4,431.8h0.9 M173.9,435.6h0.9 M216.1,453.9h0.9 M227.5,456.8h0.9 M170.8,445.9h0.9 M227.1,442.3h0.9 M180.9,445.5h0.9 M219.9,456.0h0.9 M223.4,434.8h0.9 M212.9,439.4h0.9 M216.7,437.1h0.9 M186.5,457.8h0.9 M206.2,441.7h0.9 M177.2,407.5h0.9 M206.1,455.1h0.9 M193.1,448.1h0.9 M228.9,429.4h0.9 M219.6,440.1h0.9 M184.8,435.8h0.9 M172.8,457.2h0.9 M184.5,453.3h0.9 M178.1,457.4h0.9 M191.1,452.6h0.9 M186.8,450.3h0.9 M212.5,452.3h0.9 M198.8,449.7h0.9 M230.9,447.9h0.9 M212.4,443.7h0.9 M225.6,446.5h0.9 M184.0,433.3h0.9 M201.7,454.2h0.9 M233.6,455.8h0.9 M182.3,409.4h0.9 M177.2,455.3h0.9 M215.0,441.5h0.9 M216.7,422.4h0.9 M191.1,447.8h0.9 M207.2,451.4h0.9 M181.1,434.4h0.9 M183.2,435.0h0.9 M186.6,433.1h0.9 M172.7,447.6h0.9 M215.9,436.2h0.9 M192.4,437.8h0.9 M177.1,453.3h0.9 M214.4,458.0h0.9 M223.6,449.6h0.9 M206.7,456.2h0.9 M175.3,410.1h0.9 M203.7,452.7h0.9 M173.4,444.4h0.9 M179.4,437.1h0.9 M186.7,449.2h0.9 M217.1,452.3h0.9 M190.1,450.4h0.9 M187.2,448.7h0.9 M193.5,433.1h0.9 M186.7,435.3h0.9 M194.6,432.8h0.9 M174.2,404.9h0.9 M196.6,455.2h0.9 M197.3,431.1h0.9 M173.0,451.9h0.9 M193.7,448.9h0.9 M202.0,456.8h0.9 M176.1,433.4h0.9 M182.5,422.9h0.9 M202.7,442.2h0.9 M188.1,443.5h0.9 M224.0,434.7h0.9 M179.5,441.6h0.9 M204.9,458.3h0.9 M210.4,438.2h0.9 M175.1,414.5h0.9 M209.3,455.0h0.9 M232.9,438.2h0.9 M199.6,451.7h0.9 M208.1,458.1h0.9 M183.2,450.7h0.9 M186.1,456.8h0.9 M171.5,419.6h0.9 M229.4,439.9h0.9 M176.5,431.3h0.9 M191.7,439.0h0.9 M221.8,448.7h0.9 M204.0,435.7h0.9 M171.7,434.2h0.9 M184.0,455.8h0.9 M191.7,456.8h0.9 M175.6,455.8h0.9 M220.1,434.2h0.9 M199.3,435.9h0.9 M215.0,455.6h0.9 M184.7,437.2h0.9 M211.2,447.1h0.9 M187.3,458.4h0.9 M187.1,435.5h0.9 M181.3,458.6h0.9 M215.7,431.7h0.9 M220.4,450.0h0.9 M192.4,454.3h0.9 M189.9,437.6h0.9 M186.8,429.3h0.9 M213.9,433.2h0.9 M194.9,456.5h0.9 M221.9,455.2h0.9 M170.6,439.7h0.9 M228.9,430.3h0.9 M192.2,449.8h0.9 M176.2,405.5h0.9 M173.0,414.5h0.9 M186.7,419.4h0.9 M183.1,457.3h0.9 M174.0,441.1h0.9 M183.3,429.3h0.9 M212.2,442.2h0.9 M215.2,442.2h0.9 M221.5,442.0h0.9 M180.5,432.3h0.9 M214.3,422.4h0.9 M174.8,434.9h0.9 M227.1,446.6h0.9 M189.4,430.3h0.9 M208.0,457.0h0.9 M206.2,451.4h0.9 M176.3,415.9h0.9 M216.3,412.1h0.9 M180.1,425.3h0.9 M209.5,444.5h0.9 M188.1,456.1h0.9 M209.0,433.2h0.9 M178.2,459.0h0.9 M220.8,448.7h0.9 M177.7,436.1h0.9 M178.0,449.4h0.9 M223.1,459.5h0.9 M207.8,440.9h0.9 M191.9,456.4h0.9 M181.2,422.1h0.9 M203.2,459.2h0.9 M200.4,456.4h0.9 M173.9,421.1h0.9 M228.9,439.7h0.9 M229.2,438.7h0.9 M200.6,438.7h0.9 M232.9,448.7h0.9 M215.8,432.2h0.9 M179.0,443.9h0.9 M182.8,449.0h0.9 M233.4,437.3h0.9 M173.4,410.3h0.9 M195.9,439.2h0.9 M228.8,457.4h0.9 M171.3,442.6h0.9 M187.1,459.4h0.9 M227.5,451.4h0.9 M173.9,426.9h0.9 M198.5,456.5h0.9 M182.7,423.2h0.9 M201.6,458.4h0.9 M179.9,448.7h0.9 M215.5,453.7h0.9 M204.4,447.8h0.9 M219.2,448.0h0.9 M224.7,451.5h0.9 M200.0,416.8h0.9 M204.8,449.8h0.9 M214.9,448.8h0.9 M194.0,436.2h0.9 M183.9,444.6h0.9 M171.9,438.4h0.9 M177.9,448.6h0.9 M220.9,439.6h0.9 M208.3,440.1h0.9 M199.6,458.1h0.9 M177.1,407.9h0.9 M177.8,430.4h0.9 M221.8,456.4h0.9 M220.6,434.2h0.9 M183.2,433.2h0.9 M197.9,439.9h0.9 M217.1,409.0h0.9 M172.0,450.8h0.9 M186.2,435.3h0.9 M186.1,433.3h0.9 M213.9,436.4h0.9 M230.1,444.1h0.9 M184.3,435.7h0.9 M231.0,453.7h0.9 M206.2,454.9h0.9 M191.1,433.2h0.9 M219.6,459.2h0.9 M170.9,415.6h0.9 M226.5,452.9h0.9 M172.0,408.6h0.9 M209.1,452.6h0.9 M223.0,433.4h0.9 M173.9,440.7h0.9 M177.3,447.8h0.9 M178.0,452.9h0.9 M230.7,445.4h0.9 M213.7,452.5h0.9 M175.5,446.6h0.9 M213.3,433.1h0.9 M208.2,434.1h0.9 M186.2,438.1h0.9 M178.8,419.9h0.9 M212.1,444.4h0.9 M199.6,435.1h0.9 M179.5,431.5h0.9 M223.0,414.2h0.9 M183.9,432.2h0.9 M174.9,416.5h0.9 M215.9,412.9h0.9 M231.0,454.9h0.9 M171.2,456.8h0.9 M222.3,450.5h0.9 M201.3,446.6h0.9 M216.8,439.7h0.9 M221.3,433.1h0.9 M228.6,458.4h0.9 M174.0,442.5h0.9 M179.5,448.4h0.9 M202.4,435.4h0.9 M199.5,447.3h0.9 M205.7,448.5h0.9 M178.6,451.2h0.9 M171.0,436.3h0.9 M178.0,450.7h0.9 M203.1,455.3h0.9 M173.9,440.1h0.9 M202.7,430.7h0.9 M204.1,450.7h0.9 M184.0,449.7h0.9 M214.0,459.4h0.9 M178.1,420.6h0.9 M188.5,423.6h0.9 M205.1,445.3h0.9 M218.7,451.4h0.9 M170.7,415.7h0.9 M203.2,446.6h0.9 M198.9,458.8h0.9 M176.8,458.0h0.9 M220.6,458.9h0.9 M213.6,450.7h0.9 M192.6,432.9h0.9 M212.2,433.4h0.9 M217.0,445.9h0.9 M211.8,443.5h0.9 M177.3,438.2h0.9 M172.4,412.4h0.9 M177.9,452.5h0.9 M231.2,446.7h0.9 M209.7,434.0h0.9 M203.2,437.2h0.9 M175.8,434.9h0.9 M176.5,449.3h0.9 M219.5,446.1h0.9 M174.2,411.7h0.9 M188.2,434.6h0.9 M228.8,455.9h0.9 M203.8,449.6h0.9 M221.4,459.4h0.9 M213.1,427.8h0.9 M179.5,444.8h0.9 M230.1,450.6h0.9 M203.7,449.4h0.9 M207.6,456.2h0.9 M171.1,425.6h0.9 M196.0,456.4h0.9 M199.9,414.3h0.9 M198.6,440.0h0.9 M194.6,439.9h0.9 M223.9,451.5h0.9 M173.8,418.9h0.9 M218.6,456.0h0.9 M175.6,408.9h0.9 M218.8,411.0h0.9 M192.8,455.9h0.9 M177.7,458.5h0.9 M206.8,450.9h0.9 M231.3,453.7h0.9 M186.5,429.8h0.9 M180.6,448.8h0.9 M210.0,451.3h0.9 M172.0,412.7h0.9 M226.1,454.0h0.9 M210.2,422.2h0.9 M197.7,457.8h0.9 M223.9,456.4h0.9 M184.2,423.3h0.9 M177.6,454.2h0.9 M199.5,446.1h0.9 M206.7,448.2h0.9 M177.4,435.2h0.9 M215.2,452.6h0.9 M233.4,444.6h0.9 M218.5,442.1h0.9 M208.0,449.6h0.9 M195.0,442.1h0.9 M180.1,454.9h0.9 M212.9,436.5h0.9 M180.8,437.6h0.9 M189.4,452.6h0.9 M170.6,458.0h0.9 M171.4,435.4h0.9 M176.9,454.9h0.9 M183.4,438.3h0.9 M175.6,457.6h0.9 M213.6,444.8h0.9 M214.8,408.1h0.9 M190.0,437.4h0.9 M170.9,446.2h0.9 M170.6,448.1h0.9 M195.5,451.8h0.9 M178.6,412.5h0.9 M188.0,451.4h0.9 M179.8,426.0h0.9 M229.4,457.9h0.9 M179.9,416.4h0.9 M194.1,436.1h0.9 M200.2,439.1h0.9 M171.7,405.5h0.9 M209.5,437.3h0.9 M205.5,441.7h0.9 M186.3,459.3h0.9 M181.6,453.3h0.9 M173.5,426.1h0.9 M234.0,442.3h0.9 M174.8,438.0h0.9 M197.8,457.6h0.9 M172.1,450.5h0.9 M211.7,436.4h0.9 M192.9,450.2h0.9 M175.5,415.2h0.9 M178.5,427.6h0.9 M182.4,421.8h0.9 M224.6,434.5h0.9 M229.4,433.4h0.9 M209.0,440.7h0.9 M232.4,452.3h0.9 M170.6,431.1h0.9 M179.9,439.3h0.9 M187.6,427.9h0.9 M223.7,455.8h0.9 M219.9,456.6h0.9 M177.2,424.9h0.9 M187.8,439.3h0.9 M189.0,443.0h0.9 M228.1,441.3h0.9 M183.2,455.3h0.9 M189.9,439.4h0.9 M185.4,457.9h0.9 M172.3,449.3h0.9 M170.9,438.2h0.9 M213.4,454.0h0.9 M172.1,415.6h0.9 M218.2,410.0h0.9 M185.4,443.1h0.9 M181.4,442.8h0.9 M226.6,458.6h0.9 M211.9,450.2h0.9 M220.6,433.1h0.9 M181.9,410.1h0.9 M171.3,427.1h0.9 M217.0,442.8h0.9 M214.3,442.4h0.9 M177.0,419.9h0.9 M192.7,456.7h0.9 M197.7,452.3h0.9 M232.6,447.1h0.9 M226.6,441.9h0.9 M174.4,424.7h0.9 M225.5,440.7h0.9 M182.0,458.0h0.9 M185.5,443.5h0.9 M176.6,427.3h0.9 M174.4,427.2h0.9 M214.1,453.0h0.9 M189.3,447.2h0.9 M177.5,430.4h0.9 M194.8,441.6h0.9 M172.3,424.2h0.9 M183.4,452.5h0.9 M177.1,435.7h0.9 M226.2,456.4h0.9 M178.4,416.7h0.9 M209.9,429.1h0.9 M212.9,451.2h0.9 M214.6,430.3h0.9 M214.1,447.2h0.9 M195.1,444.4h0.9 M207.8,445.5h0.9 M193.1,450.4h0.9 M173.6,425.5h0.9 M173.9,449.2h0.9 M177.1,416.9h0.9 M171.5,453.3h0.9 M190.6,440.0h0.9 M210.6,456.2h0.9 M223.0,428.1h0.9 M200.8,446.7h0.9 M199.7,440.8h0.9 M223.3,433.9h0.9 M189.6,440.3h0.9 M179.2,452.9h0.9 M175.5,431.5h0.9 M179.6,426.5h0.9 M174.1,445.7h0.9 M180.1,438.1h0.9 M173.6,453.3h0.9 M171.3,432.3h0.9 M175.8,442.9h0.9 M173.3,444.3h0.9 M172.9,429.8h0.9 M230.1,445.3h0.9 M184.7,428.1h0.9 M189.5,448.6h0.9 M199.2,440.2h0.9 M180.9,454.6h0.9 M224.1,449.5h0.9 M181.9,438.6h0.9 M170.7,421.8h0.9 M181.1,438.8h0.9 M205.2,447.5h0.9 M216.5,441.0h0.9 M220.6,450.2h0.9 M192.4,437.7h0.9 M184.0,450.9h0.9 M209.9,410.8h0.9 M173.8,424.6h0.9 M219.2,453.6h0.9 M226.7,452.9h0.9 M214.6,424.5h0.9 M207.6,443.1h0.9 M187.3,452.9h0.9 M181.0,440.7h0.9 M187.3,443.3h0.9 M175.9,447.6h0.9 M218.6,453.1h0.9 M207.9,439.8h0.9 M172.2,415.6h0.9 M176.2,459.2h0.9 M203.5,455.5h0.9 M171.5,431.9h0.9 M181.7,458.3h0.9 M172.6,420.7h0.9 M191.1,425.8h0.9 M178.8,451.5h0.9 M208.8,449.0h0.9 M172.6,436.7h0.9 M226.0,446.4h0.9 M178.3,435.6h0.9 M170.7,457.4h0.9 M191.7,449.7h0.9 M203.6,446.2h0.9 M185.6,459.5h0.9 M212.3,441.9h0.9 M173.2,423.3h0.9 M182.1,436.6h0.9 M177.7,454.9h0.9 M213.2,446.1h0.9 M223.8,447.1h0.9 M181.4,419.2h0.9 M216.5,436.1h0.9 M203.6,436.5h0.9 M214.4,455.8h0.9 M178.2,433.8h0.9 M201.0,436.9h0.9 M178.7,454.0h0.9 M174.5,437.9h0.9 M194.4,435.9h0.9 M228.2,443.4h0.9 M183.7,444.8h0.9 M174.3,409.5h0.9 M198.6,456.1h0.9 M171.8,453.5h0.9 M207.4,439.2h0.9 M199.3,453.9h0.9 M197.6,417.2h0.9 M213.8,457.4h0.9 M196.5,458.0h0.9 M190.9,437.6h0.9 M205.0,453.7h0.9 M179.1,434.2h0.9 M176.0,426.3h0.9 M233.1,440.8h0.9 M223.6,435.2h0.9 M209.7,456.4h0.9 M228.0,448.1h0.9 M210.0,454.8h0.9 M178.3,430.8h0.9 M220.7,456.7h0.9 M211.7,435.6h0.9 M171.3,436.6h0.9 M186.2,452.4h0.9 M212.7,448.4h0.9 M191.2,433.0h0.9 M202.6,444.9h0.9 M200.4,454.5h0.9 M219.0,453.2h0.9 M182.9,428.8h0.9 M198.3,448.9h0.9 M205.5,452.2h0.9 M184.9,430.7h0.9 M170.8,444.5h0.9 M196.1,436.0h0.9 M190.1,434.6h0.9 M191.3,425.6h0.9 M171.0,443.2h0.9 M175.8,451.3h0.9 M171.6,413.0h0.9 M217.1,441.0h0.9 M199.2,442.0h0.9 M223.0,456.1h0.9 M176.2,411.7h0.9 M174.3,446.9h0.9 M192.5,449.8h0.9 M188.7,451.2h0.9 M178.6,444.0h0.9 M179.0,443.0h0.9 M173.4,444.8h0.9 M202.3,453.9h0.9 M174.5,439.2h0.9 M190.6,453.8h0.9 M221.1,448.8h0.9 M177.2,456.3h0.9 M177.3,449.8h0.9 M192.3,446.4h0.9 M173.8,411.6h0.9 M170.5,447.4h0.9 M225.5,442.3h0.9 M220.6,439.1h0.9 M175.1,410.7h0.9 M215.6,442.4h0.9 M215.2,440.5h0.9 M196.1,445.5h0.9 M172.7,407.5h0.9 M171.2,434.1h0.9 M199.1,445.3h0.9 M202.1,447.2h0.9 M223.1,447.0h0.9 M230.0,454.8h0.9 M223.5,440.9h0.9 M194.4,440.0h0.9 M184.9,444.1h0.9 M174.5,458.5h0.9 M180.9,428.5h0.9 M172.9,424.6h0.9 M211.8,457.9h0.9 M180.8,445.3h0.9 M228.4,446.6h0.9 M220.4,458.6h0.9 M225.8,450.4h0.9 M170.8,414.3h0.9 M176.0,435.5h0.9 M171.9,406.4h0.9 M206.8,448.8h0.9 M179.3,444.5h0.9 M204.0,433.0h0.9 M226.3,451.1h0.9 M178.3,443.0h0.9 M212.7,455.6h0.9 M171.3,452.4h0.9 M191.3,422.6h0.9 M224.1,456.1h0.9 M217.5,434.5h0.9 M186.4,431.9h0.9 M210.4,440.3h0.9 M175.9,458.6h0.9 M193.3,438.1h0.9 M172.2,429.1h0.9 M177.9,427.1h0.9 M175.6,421.2h0.9 M219.1,434.8h0.9 M172.1,435.9h0.9 M183.8,422.1h0.9 M187.8,434.0h0.9 M176.4,429.8h0.9 M222.0,451.0h0.9 M173.4,457.8h0.9 M222.5,456.2h0.9 M172.9,427.3h0.9 M179.6,419.4h0.9 M192.4,438.9h0.9 M189.3,430.6h0.9 M211.1,441.9h0.9 M214.1,455.5h0.9 M186.4,442.7h0.9 M172.3,414.4h0.9 M179.9,420.5h0.9 M229.4,443.0h0.9 M202.9,436.4h0.9 M232.3,449.2h0.9 M175.6,428.2h0.9 M213.0,457.4h0.9 M201.3,439.7h0.9 M176.3,452.4h0.9 M191.1,425.7h0.9 M178.6,443.9h0.9 M225.1,452.3h0.9 M194.5,440.5h0.9 M190.9,448.3h0.9 M199.7,453.7h0.9 M176.3,414.2h0.9 M192.6,454.5h0.9 M174.4,443.8h0.9 M176.6,448.5h0.9 M180.8,436.1h0.9 M172.2,409.0h0.9 M221.0,436.3h0.9 M220.1,441.6h0.9 M175.6,448.9h0.9 M220.7,435.0h0.9 M185.2,448.3h0.9 M196.9,435.9h0.9 M183.6,443.1h0.9 M206.8,453.6h0.9 M214.3,445.7h0.9 M184.1,421.3h0.9 M173.7,431.6h0.9 M226.2,444.7h0.9 M213.6,437.8h0.9 M176.9,447.6h0.9 M180.9,439.5h0.9 M209.0,438.7h0.9 M224.2,435.4h0.9 M172.3,424.6h0.9 M233.8,433.3h0.9 M204.3,449.2h0.9 M201.5,454.0h0.9 M232.5,451.1h0.9 M202.5,434.3h0.9 M229.8,449.4h0.9 M181.9,449.6h0.9 M173.6,441.9h0.9 M196.0,456.0h0.9 M180.0,422.4h0.9 M170.8,417.2h0.9 M201.9,443.9h0.9 M175.0,415.7h0.9 M221.8,449.9h0.9 M170.6,443.5h0.9 M181.2,439.4h0.9 M226.2,455.2h0.9 M174.6,436.5h0.9 M198.7,431.1h0.9 M186.2,420.5h0.9 M211.8,446.5h0.9 M214.1,435.2h0.9 M182.7,452.1h0.9 M188.1,440.8h0.9 M216.9,458.0h0.9 M197.7,435.7h0.9 M184.2,449.0h0.9 M227.5,440.5h0.9 M175.3,431.0h0.9 M208.2,430.4h0.9 M171.4,457.0h0.9 M172.7,431.4h0.9 M202.7,438.8h0.9 M213.9,412.1h0.9 M180.2,456.6h0.9 M173.6,422.0h0.9 M207.6,450.7h0.9 M186.3,450.4h0.9 M229.5,446.9h0.9 M209.7,459.1h0.9 M190.1,454.5h0.9 M177.1,442.3h0.9 M211.4,409.7h0.9 M180.7,459.0h0.9 M225.1,437.2h0.9 M220.0,457.5h0.9 M217.7,446.7h0.9 M187.3,441.6h0.9 M210.9,458.3h0.9 M179.0,439.6h0.9 M183.0,444.3h0.9 M178.6,423.3h0.9 M180.1,452.7h0.9 M172.0,455.0h0.9 M188.3,432.1h0.9 M222.7,431.5h0.9 M199.0,457.0h0.9 M213.8,448.4h0.9 M175.1,421.8h0.9 M172.7,442.1h0.9 M200.4,438.7h0.9 M227.3,455.3h0.9 M206.1,454.2h0.9 M210.1,436.3h0.9 M178.0,428.0h0.9 M217.6,439.4h0.9 M172.3,451.7h0.9 M213.8,438.2h0.9 M224.9,442.1h0.9 M174.6,439.9h0.9 M176.6,416.4h0.9 M207.8,433.1h0.9 M224.5,456.8h0.9 M204.8,452.6h0.9 M181.4,454.0h0.9 M200.9,441.1h0.9 M215.7,437.4h0.9 M233.3,433.4h0.9 M176.2,405.5h0.9 M199.1,459.3h0.9 M192.8,453.3h0.9 M175.7,413.4h0.9 M193.6,456.5h0.9 M177.4,458.4h0.9 M174.2,412.3h0.9 M194.8,451.4h0.9 M181.7,426.9h0.9 M217.8,449.7h0.9 M217.4,458.6h0.9 M175.7,443.5h0.9 M182.3,434.2h0.9 M175.1,455.7h0.9 M233.9,454.8h0.9 M171.9,435.5h0.9 M196.5,458.8h0.9 M220.0,454.9h0.9 M226.4,446.6h0.9 M221.1,456.9h0.9 M186.5,456.6h0.9 M173.9,429.5h0.9 M173.7,416.8h0.9 M198.5,451.9h0.9 M193.8,455.6h0.9 M208.4,449.8h0.9 M175.9,453.6h0.9 M234.2,440.9h0.9 M212.8,449.8h0.9 M177.7,431.8h0.9 M188.5,458.4h0.9 M180.3,454.6h0.9 M192.1,439.5h0.9 M207.4,437.8h0.9 M188.1,437.4h0.9 M233.7,447.6h0.9 M174.7,448.0h0.9 M220.7,454.0h0.9 M191.7,428.5h0.9 M174.5,427.5h0.9 M189.1,437.5h0.9 M218.1,451.4h0.9 M189.2,425.3h0.9 M173.9,440.5h0.9 M183.7,443.4h0.9 M214.5,458.1h0.9 M199.6,451.2h0.9 M217.2,440.0h0.9 M172.0,424.6h0.9 M175.1,446.1h0.9 M178.9,409.2h0.9 M180.6,456.0h0.9 M178.5,431.8h0.9 M174.3,428.4h0.9 M174.5,413.2h0.9 M227.2,438.8h0.9 M170.6,431.4h0.9 M201.4,433.4h0.9 M229.8,432.2h0.9 M172.9,423.5h0.9 M205.8,429.2h0.9 M191.4,437.3h0.9 M181.7,431.2h0.9 M174.1,415.6h0.9 M202.7,455.0h0.9 M183.2,438.3h0.9 M192.8,453.9h0.9 M181.3,429.7h0.9 M199.5,454.3h0.9 M178.9,434.3h0.9 M194.1,442.4h0.9 M177.3,445.7h0.9 M175.5,422.0h0.9 M195.5,448.1h0.9 M207.8,449.8h0.9 M200.0,443.5h0.9 M175.5,454.6h0.9 M210.7,449.6h0.9 M180.5,432.6h0.9 M174.3,412.6h0.9 M231.0,447.3h0.9 M177.5,442.4h0.9 M209.9,454.9h0.9 M229.0,438.9h0.9 M232.0,446.4h0.9 M184.5,422.5h0.9 M175.4,437.6h0.9 M172.3,451.6h0.9 M174.2,452.9h0.9 M187.5,443.0h0.9 M227.5,428.6h0.9 M208.2,453.9h0.9 M173.0,404.6h0.9 M225.9,453.6h0.9 M181.4,412.5h0.9 M189.6,439.2h0.9 M210.8,458.4h0.9 M229.1,451.3h0.9 M220.4,412.1h0.9 M173.7,442.1h0.9 M186.2,439.1h0.9 M198.0,437.6h0.9 M187.4,453.1h0.9 M206.5,456.3h0.9 M227.4,445.8h0.9 M172.0,420.0h0.9 M206.9,452.1h0.9 M195.2,431.0h0.9 M186.1,424.8h0.9 M191.0,442.1h0.9 M178.1,437.4h0.9 M185.3,455.8h0.9 M226.2,446.0h0.9 M188.4,436.2h0.9 M213.5,410.4h0.9 M172.7,444.2h0.9 M223.9,442.0h0.9 M197.5,443.5h0.9 M200.9,435.1h0.9 M178.3,416.6h0.9 M223.1,429.9h0.9 M213.4,438.3h0.9 M220.7,450.0h0.9 M179.7,451.5h0.9 M193.1,430.2h0.9 M215.9,446.8h0.9 M216.8,436.6h0.9 M173.6,429.1h0.9 M217.9,443.2h0.9 M202.7,447.4h0.9 M193.0,440.8h0.9 M173.0,428.4h0.9 M207.9,436.7h0.9 M195.6,451.3h0.9 M203.7,447.1h0.9 M213.7,454.6h0.9 M186.7,455.9h0.9 M174.1,416.8h0.9 M231.4,445.0h0.9 M191.7,445.2h0.9 M191.4,457.0h0.9 M191.7,434.8h0.9 M214.9,443.6h0.9 M214.8,438.2h0.9 M173.3,445.3h0.9 M184.4,424.3h0.9 M181.8,436.2h0.9 M176.7,418.8h0.9 M180.2,454.7h0.9 M205.5,450.6h0.9 M192.5,449.3h0.9 M181.8,436.8h0.9 M197.7,453.3h0.9 M229.0,435.4h0.9 M180.0,455.3h0.9 M209.7,444.8h0.9 M190.5,434.0h0.9 M187.3,440.1h0.9 M172.8,447.5h0.9 M183.8,423.8h0.9 M171.7,412.8h0.9 M179.6,457.4h0.9 M189.9,446.5h0.9 M190.0,442.2h0.9 M206.4,451.8h0.9" stroke="#2020d8" stroke-width="0.9" opacity="0.85"/>
<path d="M175.7,445.1h0.9 M225.6,455.8h0.9 M188.3,441.3h0.9 M206.4,442.9h0.9 M203.3,449.6h0.9 M216.3,444.5h0.9 M205.0,438.1h0.9 M172.6,447.8h0.9 M175.4,431.1h0.9 M202.5,435.0h0.9 M182.8,429.5h0.9 M227.7,445.1h0.9 M206.6,440.1h0.9 M190.4,430.9h0.9 M201.6,454.4h0.9 M176.2,416.8h0.9 M212.4,442.5h0.9 M213.4,440.9h0.9 M231.4,435.0h0.9 M212.7,453.6h0.9 M185.5,436.9h0.9 M191.1,437.4h0.9 M190.1,447.1h0.9 M202.1,431.5h0.9 M208.3,447.0h0.9 M206.5,459.3h0.9 M219.4,436.3h0.9 M200.5,441.4h0.9 M195.4,443.6h0.9 M210.5,456.6h0.9 M194.4,444.4h0.9 M208.1,432.9h0.9 M225.4,458.8h0.9 M208.2,455.9h0.9 M188.0,433.6h0.9 M204.4,455.4h0.9 M214.5,431.6h0.9 M177.1,420.4h0.9 M200.4,438.3h0.9 M210.4,430.8h0.9 M204.7,450.3h0.9 M207.3,440.4h0.9 M213.3,413.8h0.9 M208.4,451.7h0.9 M174.5,455.6h0.9 M178.1,432.8h0.9 M195.5,419.3h0.9 M189.9,430.1h0.9 M229.4,431.2h0.9 M191.4,425.2h0.9 M230.8,447.3h0.9 M172.2,429.5h0.9 M179.8,442.7h0.9 M221.6,455.9h0.9 M221.3,435.9h0.9 M220.5,443.6h0.9 M202.9,438.2h0.9 M210.7,458.3h0.9 M180.7,446.0h0.9 M214.6,414.5h0.9 M219.4,411.2h0.9 M178.0,437.2h0.9 M199.0,448.7h0.9 M227.2,442.4h0.9 M184.9,418.6h0.9 M234.0,445.1h0.9 M197.7,440.7h0.9 M208.2,447.4h0.9 M186.0,437.6h0.9 M170.6,431.7h0.9 M171.6,445.1h0.9 M205.6,446.8h0.9 M174.2,427.2h0.9 M182.8,432.6h0.9 M206.9,443.2h0.9 M218.4,435.3h0.9 M173.6,412.6h0.9 M216.1,420.3h0.9 M175.4,419.5h0.9 M217.0,435.2h0.9 M224.2,441.1h0.9 M215.9,451.8h0.9 M176.4,424.1h0.9 M174.1,410.3h0.9 M174.0,432.4h0.9 M192.1,444.7h0.9 M221.0,452.8h0.9 M216.0,412.9h0.9 M172.6,420.6h0.9 M203.0,440.1h0.9 M206.0,456.5h0.9 M177.5,421.3h0.9 M196.4,450.0h0.9 M194.9,436.3h0.9 M176.0,424.0h0.9 M172.6,448.5h0.9 M232.4,438.0h0.9 M179.2,443.8h0.9 M214.3,455.9h0.9 M176.6,424.6h0.9 M193.7,441.2h0.9 M174.8,433.7h0.9 M180.0,435.9h0.9 M223.7,443.3h0.9 M174.1,431.5h0.9 M225.7,438.7h0.9 M174.0,422.7h0.9 M212.0,443.8h0.9 M189.6,444.1h0.9 M223.1,411.4h0.9 M176.6,431.0h0.9 M187.9,450.1h0.9 M173.1,452.7h0.9 M190.7,456.5h0.9 M204.2,439.9h0.9 M175.4,430.7h0.9 M223.3,429.8h0.9 M171.5,422.3h0.9 M236.6,442.2h0.9 M171.8,424.1h0.9 M173.7,458.6h0.9 M198.8,459.4h0.9 M174.0,415.3h0.9 M208.3,442.5h0.9 M211.7,440.9h0.9 M175.7,417.7h0.9 M214.5,456.5h0.9 M183.7,436.5h0.9 M173.8,444.7h0.9 M233.2,449.5h0.9 M179.4,421.3h0.9 M226.0,455.0h0.9 M207.6,455.2h0.9 M203.3,435.0h0.9 M173.4,443.7h0.9 M216.1,442.3h0.9 M172.8,436.5h0.9 M177.7,423.0h0.9 M205.3,433.7h0.9 M204.8,435.3h0.9 M174.6,451.5h0.9 M184.4,432.9h0.9 M176.7,444.5h0.9 M176.9,450.1h0.9 M228.2,440.1h0.9 M208.0,453.9h0.9 M175.0,459.3h0.9 M211.8,449.3h0.9 M179.9,429.9h0.9 M208.2,444.1h0.9 M229.4,455.3h0.9 M182.8,452.4h0.9 M185.7,432.4h0.9 M177.4,452.5h0.9 M187.3,433.0h0.9 M206.9,432.5h0.9 M185.1,441.1h0.9 M186.3,429.5h0.9 M193.1,448.5h0.9 M200.8,457.3h0.9 M214.0,456.5h0.9 M172.9,413.0h0.9 M194.5,441.5h0.9 M175.0,458.5h0.9 M222.5,443.5h0.9 M218.5,448.4h0.9 M195.5,455.0h0.9 M181.1,424.2h0.9 M173.6,420.5h0.9 M201.8,445.0h0.9 M174.3,445.1h0.9 M199.6,447.8h0.9 M178.6,426.8h0.9 M197.0,430.9h0.9 M229.3,445.1h0.9 M172.3,435.3h0.9 M187.5,439.1h0.9 M180.5,450.0h0.9 M190.7,453.8h0.9 M175.3,443.3h0.9 M172.4,432.2h0.9 M186.3,436.5h0.9 M207.9,444.8h0.9 M181.8,416.8h0.9 M207.9,443.4h0.9 M220.5,435.2h0.9 M173.1,451.8h0.9 M227.8,449.2h0.9 M188.1,434.7h0.9 M173.9,426.8h0.9 M232.5,431.3h0.9 M212.2,450.8h0.9 M228.1,457.7h0.9 M185.5,449.9h0.9 M208.6,451.1h0.9 M203.2,450.0h0.9 M173.1,425.9h0.9 M189.1,444.0h0.9 M190.5,446.0h0.9 M178.8,458.8h0.9 M211.9,437.1h0.9 M209.1,436.2h0.9 M173.3,423.2h0.9 M177.4,431.7h0.9 M229.6,445.8h0.9 M195.6,452.8h0.9 M199.4,454.8h0.9 M180.3,448.6h0.9 M173.3,443.9h0.9 M204.4,458.5h0.9 M211.3,440.6h0.9 M185.0,456.5h0.9 M221.5,440.6h0.9 M229.5,434.5h0.9 M173.0,434.1h0.9 M185.1,427.3h0.9 M233.1,455.8h0.9 M186.6,449.1h0.9 M209.5,434.7h0.9 M173.8,442.3h0.9 M200.9,434.2h0.9 M196.3,441.0h0.9 M189.3,457.5h0.9 M174.2,412.8h0.9 M203.1,457.8h0.9 M171.6,413.4h0.9 M183.5,442.8h0.9 M180.5,439.6h0.9 M203.1,435.6h0.9 M172.0,409.7h0.9 M217.6,434.2h0.9 M215.3,445.3h0.9 M195.8,447.5h0.9 M174.9,420.8h0.9 M175.2,440.8h0.9 M230.4,459.3h0.9 M220.0,451.0h0.9 M177.4,415.4h0.9 M218.6,442.6h0.9 M206.4,457.4h0.9 M172.8,439.8h0.9 M178.1,407.5h0.9 M173.1,438.6h0.9 M186.4,457.9h0.9 M211.9,435.0h0.9 M189.1,442.7h0.9 M181.4,417.0h0.9 M215.0,456.4h0.9 M173.6,435.1h0.9 M193.8,439.9h0.9 M178.4,431.1h0.9 M173.5,437.7h0.9 M190.3,448.0h0.9 M179.0,452.3h0.9 M187.8,450.9h0.9 M190.9,447.4h0.9 M232.1,448.7h0.9 M175.4,416.0h0.9 M198.6,451.4h0.9 M191.5,425.2h0.9 M196.5,436.7h0.9 M218.9,410.3h0.9 M224.4,454.1h0.9 M217.0,436.9h0.9 M216.7,436.0h0.9 M203.6,448.9h0.9 M206.8,457.3h0.9 M190.9,445.9h0.9 M188.4,458.5h0.9 M175.0,443.5h0.9 M176.8,444.2h0.9 M232.2,455.6h0.9 M177.5,459.2h0.9 M204.7,455.8h0.9 M175.9,449.3h0.9 M184.9,437.5h0.9 M176.4,455.4h0.9 M230.7,452.2h0.9 M209.3,452.0h0.9 M195.6,439.0h0.9 M183.5,444.1h0.9 M173.4,433.0h0.9 M184.9,446.8h0.9 M209.6,443.2h0.9 M191.6,458.9h0.9 M198.0,436.8h0.9 M180.3,438.3h0.9 M172.7,414.8h0.9 M215.6,451.8h0.9 M179.5,423.4h0.9 M193.9,437.5h0.9 M174.9,435.9h0.9 M196.7,459.0h0.9 M175.3,454.5h0.9 M191.3,433.5h0.9 M179.1,427.0h0.9 M194.0,449.7h0.9 M208.0,433.3h0.9 M185.2,444.2h0.9 M187.1,445.7h0.9 M210.7,435.4h0.9 M195.1,453.9h0.9 M229.2,456.9h0.9 M212.0,447.3h0.9 M216.3,451.2h0.9 M201.3,450.3h0.9 M182.2,428.0h0.9 M195.8,441.9h0.9 M213.7,435.3h0.9 M227.0,441.9h0.9 M188.3,434.0h0.9 M171.4,411.8h0.9 M198.5,418.9h0.9 M225.5,458.8h0.9 M201.0,450.4h0.9 M188.6,445.4h0.9 M172.9,421.8h0.9 M181.3,446.0h0.9 M189.0,449.7h0.9 M224.3,449.6h0.9 M173.7,409.8h0.9 M185.1,458.5h0.9 M186.3,439.9h0.9 M182.7,445.3h0.9 M181.8,437.8h0.9 M175.8,410.9h0.9 M174.9,412.4h0.9 M208.6,458.6h0.9 M180.9,452.0h0.9 M176.7,438.5h0.9 M195.2,440.2h0.9 M214.1,409.6h0.9 M179.8,443.5h0.9 M176.8,445.9h0.9 M173.2,426.0h0.9 M190.1,449.4h0.9 M178.8,432.0h0.9 M191.2,452.2h0.9 M182.1,455.3h0.9 M200.7,439.7h0.9 M172.4,409.2h0.9 M170.5,451.7h0.9 M173.4,430.3h0.9 M179.6,447.4h0.9 M173.7,451.9h0.9 M191.9,432.0h0.9 M225.4,447.3h0.9 M210.0,444.9h0.9 M183.5,440.3h0.9 M199.0,437.8h0.9 M211.7,445.8h0.9 M171.2,419.5h0.9 M197.2,433.2h0.9 M180.3,444.1h0.9 M183.9,441.8h0.9 M180.7,445.0h0.9 M180.0,446.1h0.9 M207.1,430.4h0.9 M229.9,429.6h0.9 M225.5,455.7h0.9 M191.1,444.7h0.9 M177.8,429.5h0.9 M191.3,443.1h0.9 M212.3,450.6h0.9 M232.8,445.1h0.9 M198.5,449.5h0.9 M180.9,452.5h0.9 M233.0,451.6h0.9 M187.4,431.7h0.9 M203.8,448.9h0.9 M180.9,442.0h0.9 M225.3,439.1h0.9 M226.9,455.9h0.9 M193.7,439.4h0.9 M198.2,449.1h0.9 M231.5,441.2h0.9 M203.8,431.8h0.9 M209.5,435.8h0.9 M233.4,438.4h0.9 M176.6,449.2h0.9 M172.9,448.9h0.9 M202.7,440.9h0.9 M219.8,456.0h0.9 M188.5,453.8h0.9 M172.5,412.9h0.9 M188.6,456.7h0.9 M179.3,456.0h0.9 M225.1,442.7h0.9 M196.6,429.6h0.9 M206.8,432.4h0.9 M183.1,455.0h0.9 M172.0,405.5h0.9 M172.8,428.5h0.9 M179.8,436.4h0.9 M175.0,419.2h0.9 M175.8,436.9h0.9 M211.5,433.0h0.9 M202.1,448.1h0.9 M173.1,443.3h0.9 M195.3,448.6h0.9 M171.9,419.4h0.9 M173.1,438.5h0.9 M173.9,454.0h0.9 M183.4,433.2h0.9 M173.7,413.9h0.9 M221.5,459.0h0.9 M175.2,442.2h0.9 M203.7,429.3h0.9 M212.7,412.2h0.9 M220.4,454.5h0.9 M223.5,455.1h0.9 M196.5,440.8h0.9 M177.9,421.1h0.9 M200.5,412.2h0.9 M195.3,444.6h0.9 M210.2,442.8h0.9 M226.9,435.8h0.9 M179.0,410.5h0.9 M172.7,435.1h0.9 M178.5,426.2h0.9 M202.9,431.8h0.9 M181.7,423.2h0.9 M226.4,456.6h0.9 M198.3,442.7h0.9 M178.9,433.2h0.9 M222.2,454.5h0.9 M204.5,458.1h0.9 M206.1,457.0h0.9 M176.9,428.3h0.9 M224.6,432.8h0.9 M173.6,442.6h0.9 M213.1,443.7h0.9 M214.4,425.0h0.9 M206.1,441.3h0.9 M191.5,451.3h0.9 M216.0,458.3h0.9 M192.0,445.4h0.9 M223.1,420.9h0.9 M190.0,459.3h0.9 M220.3,437.0h0.9 M230.8,435.2h0.9 M177.6,439.5h0.9 M225.2,437.0h0.9 M209.9,451.1h0.9 M177.2,432.7h0.9 M182.1,409.2h0.9 M185.6,441.8h0.9 M193.8,434.6h0.9 M177.0,404.7h0.9 M226.5,458.1h0.9 M180.2,441.2h0.9 M196.1,453.1h0.9 M176.6,428.5h0.9 M189.0,436.9h0.9 M223.4,450.7h0.9 M227.7,438.8h0.9 M178.1,427.9h0.9 M171.1,407.5h0.9 M222.3,443.8h0.9 M225.5,453.2h0.9 M205.5,452.8h0.9 M230.1,428.4h0.9 M223.3,447.3h0.9 M196.7,455.3h0.9 M176.0,409.4h0.9 M173.3,423.0h0.9 M185.5,433.4h0.9 M221.2,432.8h0.9 M175.3,453.2h0.9 M197.8,449.9h0.9 M229.5,433.1h0.9 M215.2,455.0h0.9 M233.7,449.3h0.9 M230.6,459.3h0.9 M215.4,409.7h0.9 M173.7,452.3h0.9 M177.3,451.7h0.9 M214.8,450.5h0.9 M216.3,453.3h0.9 M212.9,441.0h0.9 M184.4,444.3h0.9 M173.7,452.8h0.9 M188.5,445.2h0.9 M186.9,430.6h0.9 M229.3,444.0h0.9 M204.3,438.3h0.9 M180.3,456.7h0.9 M189.5,426.5h0.9 M175.9,406.8h0.9 M184.1,441.7h0.9 M176.8,454.4h0.9 M221.7,414.2h0.9 M220.6,437.5h0.9 M176.2,425.9h0.9 M184.8,446.7h0.9 M192.5,449.7h0.9 M218.7,450.1h0.9 M181.9,458.3h0.9 M200.8,445.1h0.9 M171.0,404.3h0.9 M193.8,440.1h0.9 M204.7,433.9h0.9 M211.6,454.3h0.9 M173.8,410.7h0.9 M192.1,455.7h0.9 M177.7,444.3h0.9 M198.8,438.3h0.9 M202.3,443.5h0.9 M187.7,448.5h0.9 M184.7,436.6h0.9 M172.2,458.3h0.9 M171.6,418.1h0.9 M178.9,447.8h0.9 M210.8,450.6h0.9 M171.4,414.5h0.9 M200.9,458.8h0.9 M171.3,435.1h0.9 M229.2,444.4h0.9 M195.9,454.2h0.9 M176.3,418.6h0.9 M226.7,442.5h0.9 M185.7,437.5h0.9 M218.7,458.8h0.9 M213.8,438.9h0.9 M178.6,456.0h0.9 M184.1,419.3h0.9 M233.8,456.3h0.9 M204.8,451.5h0.9 M202.5,455.8h0.9 M186.9,448.9h0.9 M226.9,451.8h0.9 M212.7,435.5h0.9 M186.1,446.5h0.9 M181.8,435.9h0.9 M180.2,423.8h0.9 M187.1,449.9h0.9 M193.2,458.6h0.9 M172.0,428.5h0.9 M179.9,445.6h0.9 M229.4,433.5h0.9 M178.0,418.8h0.9 M189.6,444.6h0.9 M216.1,444.5h0.9 M178.9,415.5h0.9 M218.7,453.6h0.9 M188.9,430.3h0.9 M217.6,453.5h0.9 M232.4,435.1h0.9 M201.5,457.5h0.9 M204.3,452.9h0.9 M189.9,457.5h0.9 M175.0,457.8h0.9 M177.8,445.2h0.9 M192.6,443.4h0.9 M204.8,444.7h0.9 M183.4,435.5h0.9 M211.2,437.5h0.9 M226.2,440.9h0.9 M214.5,432.3h0.9 M183.1,434.6h0.9 M208.3,441.8h0.9 M223.9,444.1h0.9 M213.3,445.2h0.9 M174.7,440.7h0.9 M199.5,437.4h0.9 M191.0,430.9h0.9 M171.6,427.8h0.9 M216.1,443.6h0.9 M198.1,439.2h0.9 M220.2,431.4h0.9 M178.2,415.9h0.9 M201.1,447.6h0.9 M194.9,456.6h0.9 M178.6,435.2h0.9 M213.6,408.3h0.9 M177.7,425.2h0.9 M229.1,459.5h0.9 M172.5,428.5h0.9 M229.8,458.0h0.9 M219.0,452.1h0.9 M191.8,452.4h0.9 M175.7,454.3h0.9 M223.2,433.5h0.9 M174.2,430.4h0.9 M198.6,440.7h0.9 M221.8,449.2h0.9 M221.3,437.8h0.9 M180.2,453.9h0.9 M227.5,450.7h0.9 M193.7,449.4h0.9 M205.7,441.6h0.9 M190.8,426.5h0.9 M225.9,436.0h0.9 M211.5,445.8h0.9 M225.1,448.8h0.9 M191.1,454.9h0.9 M182.1,424.3h0.9 M180.7,451.4h0.9 M174.5,456.5h0.9 M209.0,452.2h0.9 M187.9,437.7h0.9 M220.1,457.6h0.9 M222.9,440.6h0.9 M203.6,437.8h0.9 M216.2,434.8h0.9 M222.9,441.5h0.9 M230.3,431.7h0.9 M215.9,434.0h0.9 M203.9,447.5h0.9 M183.5,419.7h0.9 M223.0,459.0h0.9 M183.0,441.9h0.9 M224.9,445.1h0.9 M220.1,448.9h0.9 M222.2,433.9h0.9 M213.1,436.1h0.9 M171.2,447.8h0.9 M190.8,453.9h0.9 M222.7,439.5h0.9 M184.9,418.9h0.9 M191.7,454.9h0.9 M175.6,454.9h0.9 M222.3,445.3h0.9 M182.4,449.7h0.9 M176.1,444.2h0.9 M221.4,452.7h0.9 M176.9,411.4h0.9 M180.4,443.1h0.9 M192.5,441.8h0.9 M187.6,455.1h0.9 M173.2,457.3h0.9 M175.6,459.4h0.9 M235.6,459.1h0.9 M182.4,433.1h0.9 M176.3,423.1h0.9 M171.6,420.2h0.9 M197.4,445.0h0.9 M171.4,447.3h0.9 M202.0,453.8h0.9 M225.6,444.0h0.9 M170.9,438.4h0.9 M185.1,446.2h0.9 M223.5,445.7h0.9 M226.2,457.4h0.9 M170.6,413.7h0.9 M214.4,454.6h0.9 M206.3,453.9h0.9" stroke="#ffffff" stroke-width="0.9" opacity="0.6"/>
<g clip-path="url(#clip2)">
<rect x="169" y="405" width="7" height="54" fill="#2890ec" filter="url(#b1)"/>
<ellipse cx="172.2" cy="437" rx="3.0" ry="21" fill="#30dcc8" filter="url(#b1)"/>
</g>
<rect x="170.30" y="378.10" width="82.30" height="81.50" fill="none" stroke="#8c8c8c" stroke-width="1" />
<line x1="170.30" y1="378.10" x2="170.30" y2="459.60" stroke="#6a6a6a" stroke-width="1.2" />
<line x1="170.30" y1="459.60" x2="252.60" y2="459.60" stroke="#7a7a7a" stroke-width="1.1" />
<rect x="200.00" y="399.20" width="32.70" height="22.00" fill="none" stroke="#d0a0d0" stroke-width="0.8" />
<text x="54.30" y="461.50" font-size="3.9" font-weight="normal" fill="#333" text-anchor="end" >10</text>
<text x="54.40" y="459.80" font-size="2.6" font-weight="bold" fill="#333" text-anchor="start"  stroke="#333" stroke-width="0.22">0</text>
<text x="59.10" y="468.60" font-size="3.9" font-weight="normal" fill="#333" text-anchor="middle" >10</text>
<text x="61.20" y="467.00" font-size="2.6" font-weight="bold" fill="#333" text-anchor="start"  stroke="#333" stroke-width="0.22">0</text>
<text x="54.30" y="441.00" font-size="3.9" font-weight="normal" fill="#333" text-anchor="end" >10</text>
<text x="54.40" y="439.30" font-size="2.6" font-weight="bold" fill="#333" text-anchor="start"  stroke="#333" stroke-width="0.22">1</text>
<text x="79.60" y="468.60" font-size="3.9" font-weight="normal" fill="#333" text-anchor="middle" >10</text>
<text x="81.70" y="467.00" font-size="2.6" font-weight="bold" fill="#333" text-anchor="start"  stroke="#333" stroke-width="0.22">1</text>
<text x="54.30" y="420.50" font-size="3.9" font-weight="normal" fill="#333" text-anchor="end" >10</text>
<text x="54.40" y="418.80" font-size="2.6" font-weight="bold" fill="#333" text-anchor="start"  stroke="#333" stroke-width="0.22">2</text>
<text x="100.10" y="468.60" font-size="3.9" font-weight="normal" fill="#333" text-anchor="middle" >10</text>
<text x="102.20" y="467.00" font-size="2.6" font-weight="bold" fill="#333" text-anchor="start"  stroke="#333" stroke-width="0.22">2</text>
<text x="54.30" y="400.00" font-size="3.9" font-weight="normal" fill="#333" text-anchor="end" >10</text>
<text x="54.40" y="398.30" font-size="2.6" font-weight="bold" fill="#333" text-anchor="start"  stroke="#333" stroke-width="0.22">3</text>
<text x="120.60" y="468.60" font-size="3.9" font-weight="normal" fill="#333" text-anchor="middle" >10</text>
<text x="122.70" y="467.00" font-size="2.6" font-weight="bold" fill="#333" text-anchor="start"  stroke="#333" stroke-width="0.22">3</text>
<text x="54.30" y="379.50" font-size="3.9" font-weight="normal" fill="#333" text-anchor="end" >10</text>
<text x="54.40" y="377.80" font-size="2.6" font-weight="bold" fill="#333" text-anchor="start"  stroke="#333" stroke-width="0.22">4</text>
<text x="141.10" y="468.60" font-size="3.9" font-weight="normal" fill="#333" text-anchor="middle" >10</text>
<text x="143.20" y="467.00" font-size="2.6" font-weight="bold" fill="#333" text-anchor="start"  stroke="#333" stroke-width="0.22">4</text>
<text x="165.70" y="461.10" font-size="3.9" font-weight="normal" fill="#333" text-anchor="end" >10</text>
<text x="165.80" y="459.40" font-size="2.6" font-weight="bold" fill="#333" text-anchor="start"  stroke="#333" stroke-width="0.22">0</text>
<text x="170.50" y="468.60" font-size="3.9" font-weight="normal" fill="#333" text-anchor="middle" >10</text>
<text x="172.60" y="467.00" font-size="2.6" font-weight="bold" fill="#333" text-anchor="start"  stroke="#333" stroke-width="0.22">0</text>
<text x="165.70" y="440.70" font-size="3.9" font-weight="normal" fill="#333" text-anchor="end" >10</text>
<text x="165.80" y="439.00" font-size="2.6" font-weight="bold" fill="#333" text-anchor="start"  stroke="#333" stroke-width="0.22">1</text>
<text x="191.00" y="468.60" font-size="3.9" font-weight="normal" fill="#333" text-anchor="middle" >10</text>
<text x="193.10" y="467.00" font-size="2.6" font-weight="bold" fill="#333" text-anchor="start"  stroke="#333" stroke-width="0.22">1</text>
<text x="165.70" y="420.30" font-size="3.9" font-weight="normal" fill="#333" text-anchor="end" >10</text>
<text x="165.80" y="418.60" font-size="2.6" font-weight="bold" fill="#333" text-anchor="start"  stroke="#333" stroke-width="0.22">2</text>
<text x="211.50" y="468.60" font-size="3.9" font-weight="normal" fill="#333" text-anchor="middle" >10</text>
<text x="213.60" y="467.00" font-size="2.6" font-weight="bold" fill="#333" text-anchor="start"  stroke="#333" stroke-width="0.22">2</text>
<text x="165.70" y="399.90" font-size="3.9" font-weight="normal" fill="#333" text-anchor="end" >10</text>
<text x="165.80" y="398.20" font-size="2.6" font-weight="bold" fill="#333" text-anchor="start"  stroke="#333" stroke-width="0.22">3</text>
<text x="232.00" y="468.60" font-size="3.9" font-weight="normal" fill="#333" text-anchor="middle" >10</text>
<text x="234.10" y="467.00" font-size="2.6" font-weight="bold" fill="#333" text-anchor="start"  stroke="#333" stroke-width="0.22">3</text>
<text x="165.70" y="379.50" font-size="3.9" font-weight="normal" fill="#333" text-anchor="end" >10</text>
<text x="165.80" y="377.80" font-size="2.6" font-weight="bold" fill="#333" text-anchor="start"  stroke="#333" stroke-width="0.22">4</text>
<text x="252.50" y="468.60" font-size="3.9" font-weight="normal" fill="#333" text-anchor="middle" >10</text>
<text x="254.60" y="467.00" font-size="2.6" font-weight="bold" fill="#333" text-anchor="start"  stroke="#333" stroke-width="0.22">4</text>
<text x="90.40" y="373.90" font-size="10" font-weight="bold" fill="#000" text-anchor="start" textLength="15.30" lengthAdjust="spacingAndGlyphs"  stroke="#000" stroke-width="0.22">Lin</text>
<text x="106.00" y="370.00" font-size="6.5" font-weight="bold" fill="#000" text-anchor="start"  stroke="#000" stroke-width="0.22">-</text>
<text x="86.50" y="481.70" font-size="10.2" font-weight="bold" fill="#000" text-anchor="start" textLength="25.40" lengthAdjust="spacingAndGlyphs"  stroke="#000" stroke-width="0.22">CD34</text>
<text x="196.20" y="481.70" font-size="10.2" font-weight="bold" fill="#000" text-anchor="start" textLength="28.30" lengthAdjust="spacingAndGlyphs"  stroke="#000" stroke-width="0.22">Sca-1</text>
<text transform="translate(39.20,419.60) rotate(-90)" x="0" y="0" font-size="10.2" font-weight="bold" fill="#000" stroke="#000" stroke-width="0.22" text-anchor="middle" textLength="22.40" lengthAdjust="spacingAndGlyphs">c-Kit</text>
<text x="200.00" y="393.30" font-size="10" font-weight="bold" fill="#000" text-anchor="start" textLength="24.00" lengthAdjust="spacingAndGlyphs"  stroke="#000" stroke-width="0.22">CD34</text>
<text x="224.40" y="389.30" font-size="6.5" font-weight="bold" fill="#000" text-anchor="start"  stroke="#000" stroke-width="0.22">-</text>
<text x="227.50" y="393.30" font-size="10" font-weight="bold" fill="#000" text-anchor="start" textLength="17.10" lengthAdjust="spacingAndGlyphs"  stroke="#000" stroke-width="0.22">KSL</text>
<rect x="58.80" y="513.50" width="81.50" height="82.50" fill="none" stroke="#888" stroke-width="1" />
<line x1="86.70" y1="513.50" x2="86.70" y2="535.40" stroke="#6666dd" stroke-width="0.8" />
<line x1="113.40" y1="575.20" x2="140.30" y2="575.20" stroke="#6666dd" stroke-width="0.8" />
<rect x="60.2" y="576.4" width="25" height="17.4" fill="#fbecef"/>
<path d="M74.5,574 C76,571.5 78.5,569.6 80.5,569.3 C82,569.3 83,570.5 83.3,574" fill="none" stroke="#555" stroke-width="0.8"/>
<path d="M72,586.5 C72.6,583 73.5,580 76,578.5 C78.5,577.6 81,577.4 83,578.5 C83.6,582 83.6,587 83,590.5 C82.4,592 81.6,593 81,593.2 L72,593.2 Z" fill="#7a7a7a" opacity="0.8"/>
<path d="M74,584 C75,581.4 77,580 80,579.6 C81.5,579.6 82.4,580.4 82.6,582.6" fill="none" stroke="#555" stroke-width="0.8"/>
<path d="M75.5,586 C76.5,583.6 78.5,582.6 81,582.6" fill="none" stroke="#ccc" stroke-width="0.5"/>
<path d="M60.8,590 C62,588 64,587.2 66,587 C68,586.5 70,586.3 72,586.3 C75,586.3 77.5,586.4 79,586.8 C80.4,587.6 80.8,589 80.6,591 C80.4,592.4 80,593.2 79,593.4 L61,593.4 Z" fill="#0a0a0a"/>
<path d="M65.5,592.0 L70.5,591.6" stroke="#f4f4f4" stroke-width="0.9"/>
<rect x="59.40" y="575.60" width="26.50" height="19.00" fill="none" stroke="#b82a40" stroke-width="1.6" />
<rect x="59.50" y="535.60" width="26.40" height="40.00" fill="none" stroke="#111" stroke-width="1.6" />
<rect x="86.70" y="535.40" width="26.70" height="39.80" fill="none" stroke="#2828d4" stroke-width="1.6" />
<text x="63.70" y="533.00" font-size="8.2" font-weight="bold" fill="#000" text-anchor="start" textLength="21.20" lengthAdjust="spacingAndGlyphs"  stroke="#000" stroke-width="0.22">3.9 %</text>
<text x="96.90" y="533.00" font-size="8.2" font-weight="bold" fill="#000" text-anchor="start" textLength="14.10" lengthAdjust="spacingAndGlyphs"  stroke="#000" stroke-width="0.22">0 %</text>
<text x="87.80" y="588.50" font-size="8.2" font-weight="bold" fill="#000" text-anchor="start" textLength="25.40" lengthAdjust="spacingAndGlyphs"  stroke="#000" stroke-width="0.22">94.5 %</text>
<text x="58.50" y="518.10" font-size="4.9" font-weight="normal" fill="#222" text-anchor="end" textLength="10.60" lengthAdjust="spacingAndGlyphs" >1000</text>
<text x="58.50" y="534.30" font-size="4.9" font-weight="normal" fill="#222" text-anchor="end" textLength="7.95" lengthAdjust="spacingAndGlyphs" >800</text>
<text x="58.50" y="550.50" font-size="4.9" font-weight="normal" fill="#222" text-anchor="end" textLength="7.95" lengthAdjust="spacingAndGlyphs" >600</text>
<text x="58.50" y="566.70" font-size="4.9" font-weight="normal" fill="#222" text-anchor="end" textLength="7.95" lengthAdjust="spacingAndGlyphs" >400</text>
<text x="58.50" y="583.00" font-size="4.9" font-weight="normal" fill="#222" text-anchor="end" textLength="7.95" lengthAdjust="spacingAndGlyphs" >200</text>
<text x="58.50" y="597.80" font-size="4.9" font-weight="normal" fill="#222" text-anchor="end" textLength="2.65" lengthAdjust="spacingAndGlyphs" >0</text>
<text x="59.50" y="605.30" font-size="4.9" font-weight="normal" fill="#222" text-anchor="middle" textLength="2.65" lengthAdjust="spacingAndGlyphs" >0</text>
<text x="75.80" y="605.30" font-size="4.9" font-weight="normal" fill="#222" text-anchor="middle" textLength="7.95" lengthAdjust="spacingAndGlyphs" >200</text>
<text x="92.10" y="605.30" font-size="4.9" font-weight="normal" fill="#222" text-anchor="middle" textLength="7.95" lengthAdjust="spacingAndGlyphs" >400</text>
<text x="108.40" y="605.30" font-size="4.9" font-weight="normal" fill="#222" text-anchor="middle" textLength="7.95" lengthAdjust="spacingAndGlyphs" >600</text>
<text x="124.70" y="605.30" font-size="4.9" font-weight="normal" fill="#222" text-anchor="middle" textLength="7.95" lengthAdjust="spacingAndGlyphs" >800</text>
<text x="141.00" y="605.30" font-size="4.9" font-weight="normal" fill="#222" text-anchor="middle" textLength="10.60" lengthAdjust="spacingAndGlyphs" >1000</text>
<rect x="168.80" y="513.70" width="81.10" height="82.30" fill="none" stroke="#888" stroke-width="1" />
<line x1="196.40" y1="513.70" x2="196.40" y2="535.60" stroke="#6666dd" stroke-width="0.8" />
<line x1="223.00" y1="575.00" x2="249.90" y2="575.00" stroke="#6666dd" stroke-width="0.8" />
<rect x="169.6" y="576.2" width="25.2" height="17.6" fill="#fbecef"/>
<path d="M179.6,573.6 C179.6,568 179.8,560 180.2,553.3 C180.6,551.5 181.5,550.2 184.2,548.2 C186,547.8 187.6,548.6 188.7,551.6 C189.6,553 191,554 192.6,554.4 C194.2,555 195.6,555.8 196.6,556.7 C197.8,558 198.6,560 198.8,565.7 C198.6,567.5 197.6,569 195.5,572" fill="none" stroke="#4a4a4a" stroke-width="0.85"/>
<path d="M181.0,572 C181.0,566 181.4,561 182.5,559 C183.2,557.4 184.2,556.7 186.4,556.4 C187.6,556.6 188.6,557.6 189.2,558.4 C190.6,559.8 192,561 192.6,561.8 C193.8,563.2 194.6,565 194.9,567.4 C194.6,568.6 194,569.2 193.2,569.7" fill="none" stroke="#4a4a4a" stroke-width="0.85"/>
<path d="M183.6,560 C184.2,559.4 184.8,559.2 185.3,559.2 C186.2,559.4 187,560 187.6,560.6 C188.6,561.6 189.6,562.6 190.4,563.5 C191.2,564.2 191.8,565 192.1,565.7 C191.8,566.6 191.4,567 190.9,567.4 C189.6,567.6 188.2,567.2 187,566.8 C185.8,566.3 184.8,565.8 184.2,565.2 C183.6,563.6 183.4,561.6 183.6,560 Z" fill="none" stroke="#4a4a4a" stroke-width="0.85"/>
<path d="M182.5,570.2 C183.6,569.8 184.4,569.6 185.3,569.7 C186.6,570 187.6,570.4 188.7,570.8 C189.6,571.3 190.3,571.9 190.9,572.5" fill="none" stroke="#4a4a4a" stroke-width="0.85"/>
<path d="M180.8,574.4 C183,573.4 186,573.2 189,573.6 C191,573.9 192.6,574.3 193.8,574.8" fill="none" stroke="#4a4a4a" stroke-width="0.85"/>
<path d="M179.9,556 L179.9,574" stroke="#9a9a9a" stroke-width="1.2"/>
<circle cx="203.6" cy="554.1" r="1.7" fill="none" stroke="#4a4a4a" stroke-width="0.7"/>
<path d="M170.8,589.5 C172.5,585 176,582 180,580 C184,578.6 188,578.4 192.5,578.4 C193.2,583 193.2,588 192.8,593 L170.9,593 Z" fill="#5a5a5a" opacity="0.9"/>
<path d="M170.8,590.5 C172.5,587 177,585 183,583.6 C187,582.8 191,582.8 192.4,584 C192.8,587.5 192.6,590.5 192.2,593 L170.9,593 Z" fill="#0a0a0a"/>
<path d="M174,584.5 C178,581.8 184,580 191,579.6" fill="none" stroke="#d8d8d8" stroke-width="0.45"/>
<path d="M176.5,582.6 C180,581.4 186,581.4 191.5,581.8" fill="none" stroke="#bbb" stroke-width="0.4"/>
<path d="M176.5,591.0 L186.5,590.6" stroke="#f4f4f4" stroke-width="0.9"/>
<path d="M200,514.2 L202.6,514.2" stroke="#222" stroke-width="1.3"/>
<rect x="169.10" y="575.30" width="26.10" height="18.70" fill="none" stroke="#b82a40" stroke-width="1.6" />
<rect x="169.30" y="535.60" width="26.30" height="39.70" fill="none" stroke="#111" stroke-width="1.6" />
<rect x="196.40" y="535.60" width="26.60" height="39.40" fill="none" stroke="#2828d4" stroke-width="1.6" />
<text x="170.00" y="533.20" font-size="8.2" font-weight="bold" fill="#000" text-anchor="start" textLength="24.70" lengthAdjust="spacingAndGlyphs"  stroke="#000" stroke-width="0.22">14.2 %</text>
<text x="202.00" y="533.20" font-size="8.2" font-weight="bold" fill="#000" text-anchor="start" textLength="21.00" lengthAdjust="spacingAndGlyphs"  stroke="#000" stroke-width="0.22">3.3 %</text>
<text x="199.80" y="589.30" font-size="8.2" font-weight="bold" fill="#000" text-anchor="start" textLength="25.10" lengthAdjust="spacingAndGlyphs"  stroke="#000" stroke-width="0.22">81.5 %</text>
<text x="168.50" y="518.10" font-size="4.9" font-weight="normal" fill="#222" text-anchor="end" textLength="10.60" lengthAdjust="spacingAndGlyphs" >1000</text>
<text x="168.50" y="534.30" font-size="4.9" font-weight="normal" fill="#222" text-anchor="end" textLength="7.95" lengthAdjust="spacingAndGlyphs" >800</text>
<text x="168.50" y="550.50" font-size="4.9" font-weight="normal" fill="#222" text-anchor="end" textLength="7.95" lengthAdjust="spacingAndGlyphs" >600</text>
<text x="168.50" y="566.70" font-size="4.9" font-weight="normal" fill="#222" text-anchor="end" textLength="7.95" lengthAdjust="spacingAndGlyphs" >400</text>
<text x="168.50" y="583.00" font-size="4.9" font-weight="normal" fill="#222" text-anchor="end" textLength="7.95" lengthAdjust="spacingAndGlyphs" >200</text>
<text x="168.50" y="597.80" font-size="4.9" font-weight="normal" fill="#222" text-anchor="end" textLength="2.65" lengthAdjust="spacingAndGlyphs" >0</text>
<text x="169.50" y="605.30" font-size="4.9" font-weight="normal" fill="#222" text-anchor="middle" textLength="2.65" lengthAdjust="spacingAndGlyphs" >0</text>
<text x="185.72" y="605.30" font-size="4.9" font-weight="normal" fill="#222" text-anchor="middle" textLength="7.95" lengthAdjust="spacingAndGlyphs" >200</text>
<text x="201.94" y="605.30" font-size="4.9" font-weight="normal" fill="#222" text-anchor="middle" textLength="7.95" lengthAdjust="spacingAndGlyphs" >400</text>
<text x="218.16" y="605.30" font-size="4.9" font-weight="normal" fill="#222" text-anchor="middle" textLength="7.95" lengthAdjust="spacingAndGlyphs" >600</text>
<text x="234.38" y="605.30" font-size="4.9" font-weight="normal" fill="#222" text-anchor="middle" textLength="7.95" lengthAdjust="spacingAndGlyphs" >800</text>
<text x="250.60" y="605.30" font-size="4.9" font-weight="normal" fill="#222" text-anchor="middle" textLength="10.60" lengthAdjust="spacingAndGlyphs" >1000</text>
<text x="86.90" y="508.20" font-size="10" font-weight="bold" fill="#000" text-anchor="start" textLength="26.60" lengthAdjust="spacingAndGlyphs"  stroke="#000" stroke-width="0.22">mock</text>
<text x="192.60" y="508.40" font-size="10" font-weight="bold" fill="#000" text-anchor="start" textLength="33.50" lengthAdjust="spacingAndGlyphs"  stroke="#000" stroke-width="0.22">TIMP-3</text>
<path d="M38,518.2 L42,525.4 L34,525.4 Z" fill="#111"/>
<line x1="38.00" y1="525.00" x2="38.00" y2="559.00" stroke="#333" stroke-width="1.2" />
<text transform="translate(41.40,581.20) rotate(-90)" x="0" y="0" font-size="9" font-weight="bold" fill="#000" stroke="#000" stroke-width="0.22" text-anchor="middle" textLength="42.00" lengthAdjust="spacingAndGlyphs">Pyronin Y</text>
<text x="58.50" y="619.70" font-size="8.4" font-weight="bold" fill="#000" text-anchor="start" textLength="32.30" lengthAdjust="spacingAndGlyphs"  stroke="#000" stroke-width="0.22">Hoechst</text>
<line x1="96.90" y1="616.90" x2="243.00" y2="616.90" stroke="#333" stroke-width="1.4" />
<path d="M250.2,616.9 L242.1,613.2 L242.1,620.8 Z" fill="#111"/>
<rect x="267.40" y="530.20" width="21.80" height="32.30" fill="none" stroke="#111" stroke-width="1.8" />
<rect x="290.00" y="530.20" width="22.00" height="32.00" fill="none" stroke="#2020c8" stroke-width="1.8" />
<rect x="267.40" y="564.60" width="21.80" height="14.20" fill="none" stroke="#d03030" stroke-width="1.6" />
<text x="273.00" y="550.30" font-size="7.6" font-weight="bold" fill="#000" text-anchor="start" textLength="10.30" lengthAdjust="spacingAndGlyphs"  stroke="#000" stroke-width="0.22">G1</text>
<text x="290.30" y="550.30" font-size="7.6" font-weight="bold" fill="#000" text-anchor="start" textLength="28.80" lengthAdjust="spacingAndGlyphs"  stroke="#000" stroke-width="0.22">S/G2/M</text>
<text x="273.00" y="575.30" font-size="7.6" font-weight="bold" fill="#000" text-anchor="start" textLength="10.30" lengthAdjust="spacingAndGlyphs"  stroke="#000" stroke-width="0.22">G0</text>
</svg>
</body></html>
